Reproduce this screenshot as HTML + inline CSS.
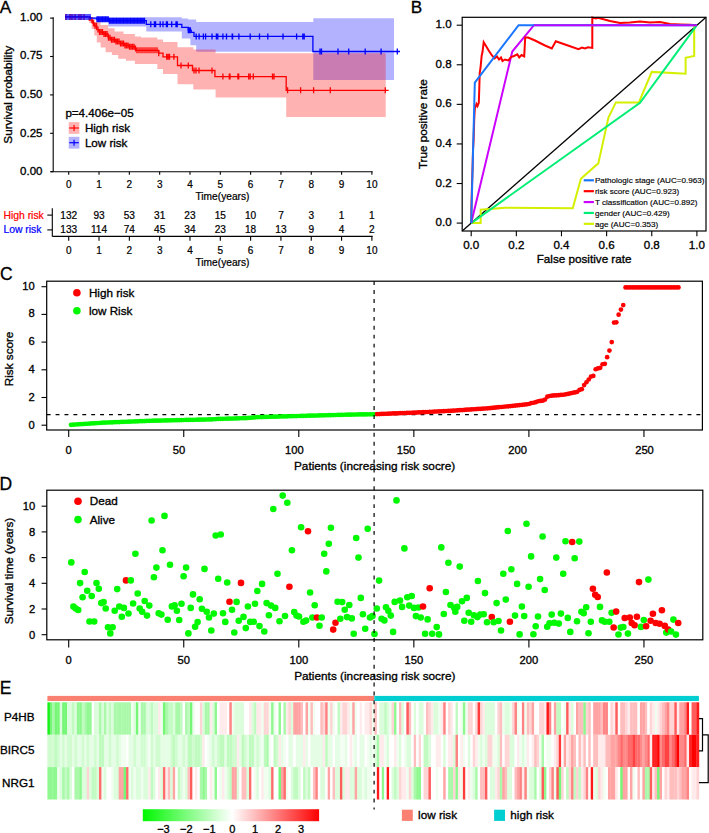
<!DOCTYPE html>
<html><head><meta charset="utf-8"><style>
html,body{margin:0;padding:0;background:#fff;overflow:hidden}
svg{display:block}
text{font-family:"Liberation Sans", sans-serif}
</style></head><body>
<svg width="709" height="833" viewBox="0 0 709 833">
<text x="-0.2" y="12.6" font-size="17.2" text-anchor="start" fill="#000" stroke="#000" stroke-width="0.3" >A</text>
<line x1="53.2" y1="17.3" x2="53.2" y2="171.7" stroke="#000" stroke-width="1.1" />
<line x1="50.1" y1="18.1" x2="53.2" y2="18.1" stroke="#000" stroke-width="1.1" />
<text x="42.5" y="20.7" font-size="11.5" text-anchor="end" fill="#000" stroke="#000" stroke-width="0.33" >1.00</text>
<line x1="50.1" y1="56.5" x2="53.2" y2="56.5" stroke="#000" stroke-width="1.1" />
<text x="42.5" y="59.3" font-size="11.5" text-anchor="end" fill="#000" stroke="#000" stroke-width="0.33" >0.75</text>
<line x1="50.1" y1="94.9" x2="53.2" y2="94.9" stroke="#000" stroke-width="1.1" />
<text x="42.5" y="97.9" font-size="11.5" text-anchor="end" fill="#000" stroke="#000" stroke-width="0.33" >0.50</text>
<line x1="50.1" y1="133.3" x2="53.2" y2="133.3" stroke="#000" stroke-width="1.1" />
<text x="42.5" y="136.5" font-size="11.5" text-anchor="end" fill="#000" stroke="#000" stroke-width="0.33" >0.25</text>
<line x1="50.1" y1="171.7" x2="53.2" y2="171.7" stroke="#000" stroke-width="1.1" />
<text x="42.5" y="175.1" font-size="11.5" text-anchor="end" fill="#000" stroke="#000" stroke-width="0.33" >0.00</text>
<text transform="translate(11.6,94.6) rotate(-90)" font-size="11.7" text-anchor="middle" fill="#000" stroke="#000" stroke-width="0.33">Survival probability</text>
<line x1="50.8" y1="171.7" x2="372.7" y2="171.7" stroke="#000" stroke-width="1.1" />
<line x1="68.7" y1="171.7" x2="68.7" y2="174.7" stroke="#000" stroke-width="1.1" />
<text x="68.7" y="187.6" font-size="10" text-anchor="middle" fill="#000" stroke="#000" stroke-width="0.22" >0</text>
<line x1="99.02" y1="171.7" x2="99.02" y2="174.7" stroke="#000" stroke-width="1.1" />
<text x="99.02" y="187.6" font-size="10" text-anchor="middle" fill="#000" stroke="#000" stroke-width="0.22" >1</text>
<line x1="129.34" y1="171.7" x2="129.34" y2="174.7" stroke="#000" stroke-width="1.1" />
<text x="129.34" y="187.6" font-size="10" text-anchor="middle" fill="#000" stroke="#000" stroke-width="0.22" >2</text>
<line x1="159.66" y1="171.7" x2="159.66" y2="174.7" stroke="#000" stroke-width="1.1" />
<text x="159.66" y="187.6" font-size="10" text-anchor="middle" fill="#000" stroke="#000" stroke-width="0.22" >3</text>
<line x1="189.98" y1="171.7" x2="189.98" y2="174.7" stroke="#000" stroke-width="1.1" />
<text x="189.98" y="187.6" font-size="10" text-anchor="middle" fill="#000" stroke="#000" stroke-width="0.22" >4</text>
<line x1="220.3" y1="171.7" x2="220.3" y2="174.7" stroke="#000" stroke-width="1.1" />
<text x="220.3" y="187.6" font-size="10" text-anchor="middle" fill="#000" stroke="#000" stroke-width="0.22" >5</text>
<line x1="250.62" y1="171.7" x2="250.62" y2="174.7" stroke="#000" stroke-width="1.1" />
<text x="250.62" y="187.6" font-size="10" text-anchor="middle" fill="#000" stroke="#000" stroke-width="0.22" >6</text>
<line x1="280.94" y1="171.7" x2="280.94" y2="174.7" stroke="#000" stroke-width="1.1" />
<text x="280.94" y="187.6" font-size="10" text-anchor="middle" fill="#000" stroke="#000" stroke-width="0.22" >7</text>
<line x1="311.26" y1="171.7" x2="311.26" y2="174.7" stroke="#000" stroke-width="1.1" />
<text x="311.26" y="187.6" font-size="10" text-anchor="middle" fill="#000" stroke="#000" stroke-width="0.22" >8</text>
<line x1="341.58" y1="171.7" x2="341.58" y2="174.7" stroke="#000" stroke-width="1.1" />
<text x="341.58" y="187.6" font-size="10" text-anchor="middle" fill="#000" stroke="#000" stroke-width="0.22" >9</text>
<line x1="371.9" y1="171.7" x2="371.9" y2="174.7" stroke="#000" stroke-width="1.1" />
<text x="371.9" y="187.6" font-size="10" text-anchor="middle" fill="#000" stroke="#000" stroke-width="0.22" >10</text>
<text x="222.5" y="199.7" font-size="10.2" text-anchor="middle" fill="#000" stroke="#000" stroke-width="0.22" >Time(years)</text>
<path d="M68.7,17.3 L181.8,17.3 L181.8,18.6 L188,18.6 L188,19.6 L196.2,19.6 L196.2,21.9 L313.3,21.9 L313.3,18.3 L394,18.3 L394,79.9 L313.3,79.9 L313.3,51.8 L196.2,51.8 L196.2,45.3 L190.4,45.3 L190.4,38.4 L181.8,38.4 L181.8,31.6 L146.3,31.6 L146.3,26.4 L108.3,26.4 L108.3,22 L97,22 L97,20 L90.3,20 L90.3,17.3 L68.7,17.3Z" fill="#0000FF" fill-opacity="0.3"/>
<path d="M68.7,17.3 L89.2,17.3 L89.2,19.4 L94.3,19.4 L94.3,22 L100.6,22 L100.6,25.1 L108.2,25.1 L108.2,28.3 L114.6,28.3 L114.6,31.5 L123.5,31.5 L123.5,34 L134.9,34 L134.9,36.6 L141,36.6 L141,37.4 L157.3,37.4 L157.3,39.5 L163,39.5 L163,42 L177.5,42 L177.5,47.2 L193.3,47.2 L193.3,49.6 L215.6,49.6 L215.6,53.3 L385.7,53.3 L385.7,116.9 L286.2,116.9 L286.2,97.6 L215.6,97.6 L215.6,89.5 L193.3,89.5 L193.3,84.2 L177.5,84.2 L177.5,74.1 L163,74.1 L163,69.1 L157.3,69.1 L157.3,63.9 L134.9,63.9 L134.9,60.7 L126,60.7 L126,58.8 L118.2,58.8 L118.2,55 L111.9,55 L111.9,52.2 L105.6,52.2 L105.6,47.5 L100.6,47.5 L100.6,42.5 L96.8,42.5 L96.8,35.4 L94.3,35.4 L94.3,29 L91.7,29 L91.7,23 L89.2,23 L89.2,17.3 L68.7,17.3Z" fill="#FF0000" fill-opacity="0.3"/>
<path d="M65,16.9 H89.2 V20.1 H92.4 V23.2 H94.3 V25.8 H96.8 V29.6 H99.4 V32.1 H103.8 V34 H108.2 V37.8 H110.8 V39.7 H115.9 V41.6 H120.3 V43.5 H124.7 V45.4 H129.2 V46.7 H134.9 V48.6 H136.2 V50.3 H158.7 V53.2 H163 V56.8 H177.5 V65.5 H192.5 V70.5 H214.9 V76.6 H286.2 V90.3 H388.6" stroke="#FF0000" stroke-width="1.3" fill="none"/>
<path d="M66,13.9V19.9M70,13.9V19.9M72,13.9V19.9M75,13.9V19.9M79,13.9V19.9M81,13.9V19.9M84,13.9V19.9M92,17.1V23.1M93.5,20.2V26.2M95,22.8V28.8M96.5,22.8V28.8M98,26.6V32.6M99.5,29.1V35.1M101,29.1V35.1M102.5,29.1V35.1M104,31V37M105.5,31V37M107,31V37M108.5,34.8V40.8M110,34.8V40.8M111.5,36.7V42.7M113,36.7V42.7M114.5,36.7V42.7M116,38.6V44.6M117.5,38.6V44.6M119,38.6V44.6M120.5,40.5V46.5M122,40.5V46.5M123.5,40.5V46.5M125,42.4V48.4M126.5,42.4V48.4M128,42.4V48.4M129.5,43.7V49.7M131,43.7V49.7M132.5,43.7V49.7M134,43.7V49.7M135.5,45.6V51.6M137,47.3V53.3M139,47.3V53.3M141,47.3V53.3M143,47.3V53.3M145,47.3V53.3M147,47.3V53.3M149,47.3V53.3M151,47.3V53.3M153,47.3V53.3M155,47.3V53.3M157,47.3V53.3M158.7,50.2V56.2M166.7,53.8V59.8M168.1,53.8V59.8M169.5,53.8V59.8M173.9,53.8V59.8M181,62.5V68.5M188.3,62.5V68.5M194,67.5V73.5M196,67.5V73.5M199,67.5V73.5M212,67.5V73.5M222.9,73.6V79.6M229.3,73.6V79.6M230,73.6V79.6M237.9,73.6V79.6M238.7,73.6V79.6M248.7,73.6V79.6M250.2,73.6V79.6M253.3,73.6V79.6M272.5,73.6V79.6M274,73.6V79.6M287.6,87.3V93.3M300.6,87.3V93.3M313.6,87.3V93.3M330.3,87.3V93.3M385.3,87.3V93.3" stroke="#FF0000" stroke-width="1.3" fill="none"/>
<path d="M65,16.9 H90.3 V18.2 H97 V19.2 H108.3 V20.7 H146.3 V24.3 H181.8 V27.3 H188.3 V30.2 H191.2 V32.3 H194 V36.4 H312.9 V51.5 H400" stroke="#0000FF" stroke-width="1.3" fill="none"/>
<path d="M66,13.9V19.9M68,13.9V19.9M70,13.9V19.9M72,13.9V19.9M74,13.9V19.9M76,13.9V19.9M78,13.9V19.9M80,13.9V19.9M82,13.9V19.9M84,13.9V19.9M86,13.9V19.9M88,13.9V19.9M90,13.9V19.9M97,16.2V22.2M98.4,16.2V22.2M99.8,16.2V22.2M101.2,16.2V22.2M102.6,16.2V22.2M104,16.2V22.2M105.4,16.2V22.2M106.8,16.2V22.2M108.2,16.2V22.2M109.5,17.7V23.7M110.9,17.7V23.7M112.3,17.7V23.7M113.7,17.7V23.7M115.1,17.7V23.7M116.5,17.7V23.7M117.9,17.7V23.7M119.3,17.7V23.7M120.7,17.7V23.7M122.1,17.7V23.7M123.5,17.7V23.7M124.9,17.7V23.7M126.3,17.7V23.7M127.7,17.7V23.7M129.1,17.7V23.7M130.5,17.7V23.7M131.9,17.7V23.7M133.3,17.7V23.7M134.7,17.7V23.7M136.1,17.7V23.7M137.5,17.7V23.7M138.9,17.7V23.7M140.3,17.7V23.7M141.7,17.7V23.7M143.1,17.7V23.7M144.5,17.7V23.7M150.8,21.3V27.3M154.4,21.3V27.3M155.6,21.3V27.3M160.2,21.3V27.3M163,21.3V27.3M166.4,21.3V27.3M167.4,21.3V27.3M171.7,21.3V27.3M176,21.3V27.3M177.2,21.3V27.3M188.3,27.2V33.2M189.5,27.2V33.2M190.4,27.2V33.2M196.2,33.4V39.4M199.1,33.4V39.4M203.4,33.4V39.4M205.6,33.4V39.4M212,33.4V39.4M216.4,33.4V39.4M217.8,33.4V39.4M222.9,33.4V39.4M226.5,33.4V39.4M232.2,33.4V39.4M232.6,33.4V39.4M238.9,33.4V39.4M250.2,33.4V39.4M259.5,33.4V39.4M267.8,33.4V39.4M283,33.4V39.4M296.6,33.4V39.4M302.8,33.4V39.4M304.2,33.4V39.4M320,48.5V54.5M321.5,48.5V54.5M338,48.5V54.5M348.7,48.5V54.5M365.2,48.5V54.5M381.1,48.5V54.5M397.3,48.5V54.5" stroke="#0000FF" stroke-width="1.3" fill="none"/>
<text x="65.4" y="117.4" font-size="11.6" text-anchor="start" fill="#000" stroke="#000" stroke-width="0.33" >p=4.406e&#8722;05</text>
<rect x="68.7" y="122.2" width="10.7" height="11.6" fill="#FF0000" fill-opacity="0.3"/>
<rect x="68.7" y="136.8" width="10.7" height="11.8" fill="#0000FF" fill-opacity="0.3"/>
<line x1="69.3" y1="128" x2="78.8" y2="128" stroke="#FF0000" stroke-width="1.2" />
<line x1="74.05" y1="125" x2="74.05" y2="131" stroke="#FF0000" stroke-width="1.2" />
<line x1="69.3" y1="142.7" x2="78.8" y2="142.7" stroke="#0000FF" stroke-width="1.2" />
<line x1="74.05" y1="139.7" x2="74.05" y2="145.7" stroke="#0000FF" stroke-width="1.2" />
<text x="84.9" y="132.4" font-size="11.6" text-anchor="start" fill="#000" stroke="#000" stroke-width="0.33" >High risk</text>
<text x="84.9" y="147" font-size="11.6" text-anchor="start" fill="#000" stroke="#000" stroke-width="0.33" >Low risk</text>
<line x1="52.3" y1="208.3" x2="52.3" y2="236.4" stroke="#000" stroke-width="1.1" />
<line x1="52.3" y1="236.4" x2="372.7" y2="236.4" stroke="#000" stroke-width="1.1" />
<line x1="47.3" y1="215.1" x2="52.3" y2="215.1" stroke="#000" stroke-width="1.1" />
<line x1="47.3" y1="229.9" x2="52.3" y2="229.9" stroke="#000" stroke-width="1.1" />
<text x="3.4" y="218.5" font-size="10.4" text-anchor="start" fill="#FF0000" stroke="#FF0000" stroke-width="0.22" >High risk</text>
<text x="3.4" y="233.3" font-size="10.4" text-anchor="start" fill="#0000FF" stroke="#0000FF" stroke-width="0.22" >Low risk</text>
<text x="68.7" y="218.5" font-size="10.1" text-anchor="middle" fill="#000" stroke="#000" stroke-width="0.22" >132</text>
<text x="68.7" y="233.3" font-size="10.1" text-anchor="middle" fill="#000" stroke="#000" stroke-width="0.22" >133</text>
<line x1="68.7" y1="236.4" x2="68.7" y2="240.7" stroke="#000" stroke-width="1.1" />
<text x="68.7" y="254.2" font-size="10" text-anchor="middle" fill="#000" stroke="#000" stroke-width="0.22" >0</text>
<text x="99.02" y="218.5" font-size="10.1" text-anchor="middle" fill="#000" stroke="#000" stroke-width="0.22" >93</text>
<text x="99.02" y="233.3" font-size="10.1" text-anchor="middle" fill="#000" stroke="#000" stroke-width="0.22" >114</text>
<line x1="99.02" y1="236.4" x2="99.02" y2="240.7" stroke="#000" stroke-width="1.1" />
<text x="99.02" y="254.2" font-size="10" text-anchor="middle" fill="#000" stroke="#000" stroke-width="0.22" >1</text>
<text x="129.34" y="218.5" font-size="10.1" text-anchor="middle" fill="#000" stroke="#000" stroke-width="0.22" >53</text>
<text x="129.34" y="233.3" font-size="10.1" text-anchor="middle" fill="#000" stroke="#000" stroke-width="0.22" >74</text>
<line x1="129.34" y1="236.4" x2="129.34" y2="240.7" stroke="#000" stroke-width="1.1" />
<text x="129.34" y="254.2" font-size="10" text-anchor="middle" fill="#000" stroke="#000" stroke-width="0.22" >2</text>
<text x="159.66" y="218.5" font-size="10.1" text-anchor="middle" fill="#000" stroke="#000" stroke-width="0.22" >31</text>
<text x="159.66" y="233.3" font-size="10.1" text-anchor="middle" fill="#000" stroke="#000" stroke-width="0.22" >45</text>
<line x1="159.66" y1="236.4" x2="159.66" y2="240.7" stroke="#000" stroke-width="1.1" />
<text x="159.66" y="254.2" font-size="10" text-anchor="middle" fill="#000" stroke="#000" stroke-width="0.22" >3</text>
<text x="189.98" y="218.5" font-size="10.1" text-anchor="middle" fill="#000" stroke="#000" stroke-width="0.22" >23</text>
<text x="189.98" y="233.3" font-size="10.1" text-anchor="middle" fill="#000" stroke="#000" stroke-width="0.22" >34</text>
<line x1="189.98" y1="236.4" x2="189.98" y2="240.7" stroke="#000" stroke-width="1.1" />
<text x="189.98" y="254.2" font-size="10" text-anchor="middle" fill="#000" stroke="#000" stroke-width="0.22" >4</text>
<text x="220.3" y="218.5" font-size="10.1" text-anchor="middle" fill="#000" stroke="#000" stroke-width="0.22" >15</text>
<text x="220.3" y="233.3" font-size="10.1" text-anchor="middle" fill="#000" stroke="#000" stroke-width="0.22" >23</text>
<line x1="220.3" y1="236.4" x2="220.3" y2="240.7" stroke="#000" stroke-width="1.1" />
<text x="220.3" y="254.2" font-size="10" text-anchor="middle" fill="#000" stroke="#000" stroke-width="0.22" >5</text>
<text x="250.62" y="218.5" font-size="10.1" text-anchor="middle" fill="#000" stroke="#000" stroke-width="0.22" >10</text>
<text x="250.62" y="233.3" font-size="10.1" text-anchor="middle" fill="#000" stroke="#000" stroke-width="0.22" >18</text>
<line x1="250.62" y1="236.4" x2="250.62" y2="240.7" stroke="#000" stroke-width="1.1" />
<text x="250.62" y="254.2" font-size="10" text-anchor="middle" fill="#000" stroke="#000" stroke-width="0.22" >6</text>
<text x="280.94" y="218.5" font-size="10.1" text-anchor="middle" fill="#000" stroke="#000" stroke-width="0.22" >7</text>
<text x="280.94" y="233.3" font-size="10.1" text-anchor="middle" fill="#000" stroke="#000" stroke-width="0.22" >13</text>
<line x1="280.94" y1="236.4" x2="280.94" y2="240.7" stroke="#000" stroke-width="1.1" />
<text x="280.94" y="254.2" font-size="10" text-anchor="middle" fill="#000" stroke="#000" stroke-width="0.22" >7</text>
<text x="311.26" y="218.5" font-size="10.1" text-anchor="middle" fill="#000" stroke="#000" stroke-width="0.22" >3</text>
<text x="311.26" y="233.3" font-size="10.1" text-anchor="middle" fill="#000" stroke="#000" stroke-width="0.22" >9</text>
<line x1="311.26" y1="236.4" x2="311.26" y2="240.7" stroke="#000" stroke-width="1.1" />
<text x="311.26" y="254.2" font-size="10" text-anchor="middle" fill="#000" stroke="#000" stroke-width="0.22" >8</text>
<text x="341.58" y="218.5" font-size="10.1" text-anchor="middle" fill="#000" stroke="#000" stroke-width="0.22" >1</text>
<text x="341.58" y="233.3" font-size="10.1" text-anchor="middle" fill="#000" stroke="#000" stroke-width="0.22" >4</text>
<line x1="341.58" y1="236.4" x2="341.58" y2="240.7" stroke="#000" stroke-width="1.1" />
<text x="341.58" y="254.2" font-size="10" text-anchor="middle" fill="#000" stroke="#000" stroke-width="0.22" >9</text>
<text x="371.9" y="218.5" font-size="10.1" text-anchor="middle" fill="#000" stroke="#000" stroke-width="0.22" >1</text>
<text x="371.9" y="233.3" font-size="10.1" text-anchor="middle" fill="#000" stroke="#000" stroke-width="0.22" >2</text>
<line x1="371.9" y1="236.4" x2="371.9" y2="240.7" stroke="#000" stroke-width="1.1" />
<text x="371.9" y="254.2" font-size="10" text-anchor="middle" fill="#000" stroke="#000" stroke-width="0.22" >10</text>
<text x="222.5" y="265.8" font-size="10.2" text-anchor="middle" fill="#000" stroke="#000" stroke-width="0.22" >Time(years)</text>
<text x="410.7" y="12.6" font-size="17.2" text-anchor="start" fill="#000" stroke="#000" stroke-width="0.3" >B</text>
<line x1="462.2" y1="231" x2="706" y2="17.3" stroke="#000" stroke-width="1.3" />
<path d="M471.2,223.1 L480.68,223.1 L480.68,209.64 L505.06,207.66 L572.76,208.26 L580.89,178.77 L596.46,164.92 L598.27,163.73 L608.43,117.62 L615.87,102.38 L638.9,102.38 L651.76,71.9 L685.62,73.69 L685.62,57.85 L694.19,55.87 L694.19,25.2 L696.9,25.2" stroke="#D4F000" stroke-width="2.0" fill="none" stroke-linejoin="miter"/>
<path d="M471.2,223.1 L640.02,102.78 L696.9,25.2" stroke="#00EE76" stroke-width="2.0" fill="none" stroke-linejoin="miter"/>
<path d="M471.2,223.1 L512.28,51.52 L533.94,25.2 L696.9,25.2" stroke="#CC00FF" stroke-width="2.0" fill="none" stroke-linejoin="miter"/>
<path d="M471.2,223.1 L471.6,200 L472,185 L472.5,170 L473,150 L473.6,140 L474.2,120 L474.8,108.7 L476.5,104 L477.5,106 L478.8,102.8 L479.3,88 L479.7,73.2 L480.5,68 L481.7,55.4 L482.5,52 L483.7,42.2 L486,46 L489,51 L492,55.5 L494.6,58.4 L497,56.5 L499,59.5 L501,57.5 L502.5,61 L505,59.5 L508.4,60.4 L511,57 L514,56 L517.3,54.4 L519.2,57.4 L521.5,55 L524.2,56.4 L525.2,37.6 L528.1,37.6 L535,40.5 L545,45.5 L551.8,48.5 L555.8,41.2 L565,44.5 L578.5,49.1 L582,47.5 L585,48.5 L588,47.3 L592.3,47.9 L592.3,17.5 L596,18.5 L598,17.8 L610,21 L620,23 L630,22.5 L640,21.5 L650,22.5 L660,22 L670,24 L680,24.5 L690,24.8 L696.9,25.2" stroke="#FF0000" stroke-width="2.0" fill="none" stroke-linejoin="miter"/>
<path d="M471.2,223.1 L474.81,82.59 L518.6,25.2 L696.9,25.2" stroke="#1A75FF" stroke-width="2.0" fill="none" stroke-linejoin="miter"/>
<path d="M533.94,25.2 L696.9,25.2" stroke="#CC00FF" stroke-width="1.6" fill="none" stroke-linejoin="miter"/>
<rect x="462.2" y="17.3" width="243.8" height="213.7" fill="none" stroke="#000" stroke-width="1.2"/>
<line x1="456.7" y1="223.1" x2="462.2" y2="223.1" stroke="#000" stroke-width="1.1" />
<text x="451.6" y="226.1" font-size="11.6" text-anchor="end" fill="#000" stroke="#000" stroke-width="0.33" >0.0</text>
<line x1="456.7" y1="183.52" x2="462.2" y2="183.52" stroke="#000" stroke-width="1.1" />
<text x="451.6" y="186.52" font-size="11.6" text-anchor="end" fill="#000" stroke="#000" stroke-width="0.33" >0.2</text>
<line x1="456.7" y1="143.94" x2="462.2" y2="143.94" stroke="#000" stroke-width="1.1" />
<text x="451.6" y="146.94" font-size="11.6" text-anchor="end" fill="#000" stroke="#000" stroke-width="0.33" >0.4</text>
<line x1="456.7" y1="104.36" x2="462.2" y2="104.36" stroke="#000" stroke-width="1.1" />
<text x="451.6" y="107.36" font-size="11.6" text-anchor="end" fill="#000" stroke="#000" stroke-width="0.33" >0.6</text>
<line x1="456.7" y1="64.78" x2="462.2" y2="64.78" stroke="#000" stroke-width="1.1" />
<text x="451.6" y="67.78" font-size="11.6" text-anchor="end" fill="#000" stroke="#000" stroke-width="0.33" >0.8</text>
<line x1="456.7" y1="25.2" x2="462.2" y2="25.2" stroke="#000" stroke-width="1.1" />
<text x="451.6" y="28.2" font-size="11.6" text-anchor="end" fill="#000" stroke="#000" stroke-width="0.33" >1.0</text>
<line x1="471.2" y1="231" x2="471.2" y2="236.3" stroke="#000" stroke-width="1.1" />
<text x="471.2" y="248.6" font-size="11.6" text-anchor="middle" fill="#000" stroke="#000" stroke-width="0.33" >0.0</text>
<line x1="516.34" y1="231" x2="516.34" y2="236.3" stroke="#000" stroke-width="1.1" />
<text x="516.34" y="248.6" font-size="11.6" text-anchor="middle" fill="#000" stroke="#000" stroke-width="0.33" >0.2</text>
<line x1="561.48" y1="231" x2="561.48" y2="236.3" stroke="#000" stroke-width="1.1" />
<text x="561.48" y="248.6" font-size="11.6" text-anchor="middle" fill="#000" stroke="#000" stroke-width="0.33" >0.4</text>
<line x1="606.62" y1="231" x2="606.62" y2="236.3" stroke="#000" stroke-width="1.1" />
<text x="606.62" y="248.6" font-size="11.6" text-anchor="middle" fill="#000" stroke="#000" stroke-width="0.33" >0.6</text>
<line x1="651.76" y1="231" x2="651.76" y2="236.3" stroke="#000" stroke-width="1.1" />
<text x="651.76" y="248.6" font-size="11.6" text-anchor="middle" fill="#000" stroke="#000" stroke-width="0.33" >0.8</text>
<line x1="696.9" y1="231" x2="696.9" y2="236.3" stroke="#000" stroke-width="1.1" />
<text x="696.9" y="248.6" font-size="11.6" text-anchor="middle" fill="#000" stroke="#000" stroke-width="0.33" >1.0</text>
<text transform="translate(427,124.2) rotate(-90)" font-size="11.7" text-anchor="middle" fill="#000" stroke="#000" stroke-width="0.33">True positive rate</text>
<text x="584.1" y="263.2" font-size="11.7" text-anchor="middle" fill="#000" stroke="#000" stroke-width="0.33" >False positive rate</text>
<line x1="583.7" y1="180.3" x2="593.9" y2="180.3" stroke="#1A75FF" stroke-width="2.2" />
<text x="594.9" y="183.2" font-size="8.1" text-anchor="start" fill="#000" stroke="#000" stroke-width="0.15" >Pathologic stage (AUC=0.963)</text>
<line x1="583.7" y1="191.18" x2="593.9" y2="191.18" stroke="#FF0000" stroke-width="2.2" />
<text x="594.9" y="194.08" font-size="8.1" text-anchor="start" fill="#000" stroke="#000" stroke-width="0.15" >risk score (AUC=0.923)</text>
<line x1="583.7" y1="202.06" x2="593.9" y2="202.06" stroke="#CC00FF" stroke-width="2.2" />
<text x="594.9" y="204.96" font-size="8.1" text-anchor="start" fill="#000" stroke="#000" stroke-width="0.15" >T classification (AUC=0.892)</text>
<line x1="583.7" y1="212.94" x2="593.9" y2="212.94" stroke="#00EE76" stroke-width="2.2" />
<text x="594.9" y="215.84" font-size="8.1" text-anchor="start" fill="#000" stroke="#000" stroke-width="0.15" >gender (AUC=0.429)</text>
<line x1="583.7" y1="223.82" x2="593.9" y2="223.82" stroke="#D4F000" stroke-width="2.2" />
<text x="594.9" y="226.72" font-size="8.1" text-anchor="start" fill="#000" stroke="#000" stroke-width="0.15" >age (AUC=0.353)</text>
<text x="-0.1" y="280" font-size="17.5" text-anchor="start" fill="#000" stroke="#000" stroke-width="0.3" >C</text>
<line x1="46.7" y1="414.6" x2="702.4" y2="414.6" stroke="#000" stroke-width="1.2" stroke-dasharray="3.9 5.0"/>
<circle cx="71" cy="424.78" r="2.35" fill="#00F800"/>
<circle cx="73.3" cy="424.64" r="2.35" fill="#00F800"/>
<circle cx="75.6" cy="424.49" r="2.35" fill="#00F800"/>
<circle cx="77.9" cy="424.34" r="2.35" fill="#00F800"/>
<circle cx="80.2" cy="424.19" r="2.35" fill="#00F800"/>
<circle cx="82.51" cy="424.05" r="2.35" fill="#00F800"/>
<circle cx="84.81" cy="423.9" r="2.35" fill="#00F800"/>
<circle cx="87.11" cy="423.75" r="2.35" fill="#00F800"/>
<circle cx="89.41" cy="423.6" r="2.35" fill="#00F800"/>
<circle cx="91.71" cy="423.45" r="2.35" fill="#00F800"/>
<circle cx="94.01" cy="423.31" r="2.35" fill="#00F800"/>
<circle cx="96.31" cy="423.16" r="2.35" fill="#00F800"/>
<circle cx="98.61" cy="423.01" r="2.35" fill="#00F800"/>
<circle cx="100.91" cy="422.86" r="2.35" fill="#00F800"/>
<circle cx="103.22" cy="422.72" r="2.35" fill="#00F800"/>
<circle cx="105.52" cy="422.57" r="2.35" fill="#00F800"/>
<circle cx="107.82" cy="422.48" r="2.35" fill="#00F800"/>
<circle cx="110.12" cy="422.39" r="2.35" fill="#00F800"/>
<circle cx="112.42" cy="422.3" r="2.35" fill="#00F800"/>
<circle cx="114.72" cy="422.21" r="2.35" fill="#00F800"/>
<circle cx="117.02" cy="422.12" r="2.35" fill="#00F800"/>
<circle cx="119.32" cy="422.03" r="2.35" fill="#00F800"/>
<circle cx="121.62" cy="421.94" r="2.35" fill="#00F800"/>
<circle cx="123.92" cy="421.85" r="2.35" fill="#00F800"/>
<circle cx="126.23" cy="421.76" r="2.35" fill="#00F800"/>
<circle cx="128.53" cy="421.67" r="2.35" fill="#00F800"/>
<circle cx="130.83" cy="421.58" r="2.35" fill="#00F800"/>
<circle cx="133.13" cy="421.49" r="2.35" fill="#00F800"/>
<circle cx="135.43" cy="421.4" r="2.35" fill="#00F800"/>
<circle cx="137.73" cy="421.31" r="2.35" fill="#00F800"/>
<circle cx="140.03" cy="421.22" r="2.35" fill="#00F800"/>
<circle cx="142.33" cy="421.13" r="2.35" fill="#00F800"/>
<circle cx="144.63" cy="421.04" r="2.35" fill="#00F800"/>
<circle cx="146.93" cy="420.95" r="2.35" fill="#00F800"/>
<circle cx="149.24" cy="420.86" r="2.35" fill="#00F800"/>
<circle cx="151.54" cy="420.77" r="2.35" fill="#00F800"/>
<circle cx="153.84" cy="420.71" r="2.35" fill="#00F800"/>
<circle cx="156.14" cy="420.66" r="2.35" fill="#00F800"/>
<circle cx="158.44" cy="420.61" r="2.35" fill="#00F800"/>
<circle cx="160.74" cy="420.55" r="2.35" fill="#00F800"/>
<circle cx="163.04" cy="420.5" r="2.35" fill="#00F800"/>
<circle cx="165.34" cy="420.45" r="2.35" fill="#00F800"/>
<circle cx="167.64" cy="420.4" r="2.35" fill="#00F800"/>
<circle cx="169.94" cy="420.34" r="2.35" fill="#00F800"/>
<circle cx="172.25" cy="420.29" r="2.35" fill="#00F800"/>
<circle cx="174.55" cy="420.24" r="2.35" fill="#00F800"/>
<circle cx="176.85" cy="420.18" r="2.35" fill="#00F800"/>
<circle cx="179.15" cy="420.13" r="2.35" fill="#00F800"/>
<circle cx="181.45" cy="420.08" r="2.35" fill="#00F800"/>
<circle cx="183.75" cy="420.02" r="2.35" fill="#00F800"/>
<circle cx="186.05" cy="419.97" r="2.35" fill="#00F800"/>
<circle cx="188.35" cy="419.92" r="2.35" fill="#00F800"/>
<circle cx="190.65" cy="419.86" r="2.35" fill="#00F800"/>
<circle cx="192.95" cy="419.81" r="2.35" fill="#00F800"/>
<circle cx="195.25" cy="419.76" r="2.35" fill="#00F800"/>
<circle cx="197.56" cy="419.7" r="2.35" fill="#00F800"/>
<circle cx="199.86" cy="419.65" r="2.35" fill="#00F800"/>
<circle cx="202.16" cy="419.6" r="2.35" fill="#00F800"/>
<circle cx="204.46" cy="419.54" r="2.35" fill="#00F800"/>
<circle cx="206.76" cy="419.49" r="2.35" fill="#00F800"/>
<circle cx="209.06" cy="419.44" r="2.35" fill="#00F800"/>
<circle cx="211.36" cy="419.38" r="2.35" fill="#00F800"/>
<circle cx="213.66" cy="419.24" r="2.35" fill="#00F800"/>
<circle cx="215.96" cy="419.11" r="2.35" fill="#00F800"/>
<circle cx="218.26" cy="418.97" r="2.35" fill="#00F800"/>
<circle cx="220.57" cy="418.9" r="2.35" fill="#00F800"/>
<circle cx="222.87" cy="418.83" r="2.35" fill="#00F800"/>
<circle cx="225.17" cy="418.76" r="2.35" fill="#00F800"/>
<circle cx="227.47" cy="418.69" r="2.35" fill="#00F800"/>
<circle cx="229.77" cy="418.62" r="2.35" fill="#00F800"/>
<circle cx="232.07" cy="418.55" r="2.35" fill="#00F800"/>
<circle cx="234.37" cy="418.48" r="2.35" fill="#00F800"/>
<circle cx="236.67" cy="418.41" r="2.35" fill="#00F800"/>
<circle cx="238.97" cy="418.34" r="2.35" fill="#00F800"/>
<circle cx="241.28" cy="418.27" r="2.35" fill="#00F800"/>
<circle cx="243.58" cy="418.21" r="2.35" fill="#00F800"/>
<circle cx="245.88" cy="418.14" r="2.35" fill="#00F800"/>
<circle cx="248.18" cy="417.94" r="2.35" fill="#00F800"/>
<circle cx="250.48" cy="417.75" r="2.35" fill="#00F800"/>
<circle cx="252.78" cy="417.55" r="2.35" fill="#00F800"/>
<circle cx="255.08" cy="417.36" r="2.35" fill="#00F800"/>
<circle cx="257.38" cy="417.17" r="2.35" fill="#00F800"/>
<circle cx="259.68" cy="417.1" r="2.35" fill="#00F800"/>
<circle cx="261.98" cy="417.04" r="2.35" fill="#00F800"/>
<circle cx="264.29" cy="416.97" r="2.35" fill="#00F800"/>
<circle cx="266.59" cy="416.9" r="2.35" fill="#00F800"/>
<circle cx="268.89" cy="416.84" r="2.35" fill="#00F800"/>
<circle cx="271.19" cy="416.77" r="2.35" fill="#00F800"/>
<circle cx="273.49" cy="416.71" r="2.35" fill="#00F800"/>
<circle cx="275.79" cy="416.64" r="2.35" fill="#00F800"/>
<circle cx="278.09" cy="416.57" r="2.35" fill="#00F800"/>
<circle cx="280.39" cy="416.51" r="2.35" fill="#00F800"/>
<circle cx="282.69" cy="416.44" r="2.35" fill="#00F800"/>
<circle cx="284.99" cy="416.38" r="2.35" fill="#00F800"/>
<circle cx="287.3" cy="416.31" r="2.35" fill="#00F800"/>
<circle cx="289.6" cy="416.24" r="2.35" fill="#00F800"/>
<circle cx="291.9" cy="416.18" r="2.35" fill="#00F800"/>
<circle cx="294.2" cy="416.11" r="2.35" fill="#00F800"/>
<circle cx="296.5" cy="416.05" r="2.35" fill="#00F800"/>
<circle cx="298.8" cy="415.98" r="2.35" fill="#00F800"/>
<circle cx="301.1" cy="415.91" r="2.35" fill="#00F800"/>
<circle cx="303.4" cy="415.85" r="2.35" fill="#00F800"/>
<circle cx="305.7" cy="415.78" r="2.35" fill="#00F800"/>
<circle cx="308" cy="415.72" r="2.35" fill="#00F800"/>
<circle cx="310.31" cy="415.66" r="2.35" fill="#00F800"/>
<circle cx="312.61" cy="415.6" r="2.35" fill="#00F800"/>
<circle cx="314.91" cy="415.54" r="2.35" fill="#00F800"/>
<circle cx="317.21" cy="415.49" r="2.35" fill="#00F800"/>
<circle cx="319.51" cy="415.43" r="2.35" fill="#00F800"/>
<circle cx="321.81" cy="415.37" r="2.35" fill="#00F800"/>
<circle cx="324.11" cy="415.31" r="2.35" fill="#00F800"/>
<circle cx="326.41" cy="415.25" r="2.35" fill="#00F800"/>
<circle cx="328.71" cy="415.19" r="2.35" fill="#00F800"/>
<circle cx="331.01" cy="415.13" r="2.35" fill="#00F800"/>
<circle cx="333.31" cy="415.07" r="2.35" fill="#00F800"/>
<circle cx="335.62" cy="415.01" r="2.35" fill="#00F800"/>
<circle cx="337.92" cy="414.95" r="2.35" fill="#00F800"/>
<circle cx="340.22" cy="414.89" r="2.35" fill="#00F800"/>
<circle cx="342.52" cy="414.83" r="2.35" fill="#00F800"/>
<circle cx="344.82" cy="414.77" r="2.35" fill="#00F800"/>
<circle cx="347.12" cy="414.71" r="2.35" fill="#00F800"/>
<circle cx="349.42" cy="414.65" r="2.35" fill="#00F800"/>
<circle cx="351.72" cy="414.59" r="2.35" fill="#00F800"/>
<circle cx="354.02" cy="414.54" r="2.35" fill="#00F800"/>
<circle cx="356.32" cy="414.5" r="2.35" fill="#00F800"/>
<circle cx="358.63" cy="414.47" r="2.35" fill="#00F800"/>
<circle cx="360.93" cy="414.44" r="2.35" fill="#00F800"/>
<circle cx="363.23" cy="414.41" r="2.35" fill="#00F800"/>
<circle cx="365.53" cy="414.38" r="2.35" fill="#00F800"/>
<circle cx="367.83" cy="414.35" r="2.35" fill="#00F800"/>
<circle cx="370.13" cy="414.32" r="2.35" fill="#00F800"/>
<circle cx="372.43" cy="414.29" r="2.35" fill="#00F800"/>
<circle cx="374.73" cy="414.26" r="2.35" fill="#00F800"/>
<circle cx="377.03" cy="414.12" r="2.35" fill="#FF0000"/>
<circle cx="379.34" cy="414.03" r="2.35" fill="#FF0000"/>
<circle cx="381.64" cy="413.94" r="2.35" fill="#FF0000"/>
<circle cx="383.94" cy="413.84" r="2.35" fill="#FF0000"/>
<circle cx="386.24" cy="413.75" r="2.35" fill="#FF0000"/>
<circle cx="388.54" cy="413.66" r="2.35" fill="#FF0000"/>
<circle cx="390.84" cy="413.57" r="2.35" fill="#FF0000"/>
<circle cx="393.14" cy="413.47" r="2.35" fill="#FF0000"/>
<circle cx="395.44" cy="413.38" r="2.35" fill="#FF0000"/>
<circle cx="397.74" cy="413.29" r="2.35" fill="#FF0000"/>
<circle cx="400.04" cy="413.2" r="2.35" fill="#FF0000"/>
<circle cx="402.35" cy="413.1" r="2.35" fill="#FF0000"/>
<circle cx="404.65" cy="413.01" r="2.35" fill="#FF0000"/>
<circle cx="406.95" cy="412.92" r="2.35" fill="#FF0000"/>
<circle cx="409.25" cy="412.83" r="2.35" fill="#FF0000"/>
<circle cx="411.55" cy="412.74" r="2.35" fill="#FF0000"/>
<circle cx="413.85" cy="412.64" r="2.35" fill="#FF0000"/>
<circle cx="416.15" cy="412.55" r="2.35" fill="#FF0000"/>
<circle cx="418.45" cy="412.46" r="2.35" fill="#FF0000"/>
<circle cx="420.75" cy="412.34" r="2.35" fill="#FF0000"/>
<circle cx="423.05" cy="412.22" r="2.35" fill="#FF0000"/>
<circle cx="425.36" cy="412.1" r="2.35" fill="#FF0000"/>
<circle cx="427.66" cy="411.98" r="2.35" fill="#FF0000"/>
<circle cx="429.96" cy="411.86" r="2.35" fill="#FF0000"/>
<circle cx="432.26" cy="411.74" r="2.35" fill="#FF0000"/>
<circle cx="434.56" cy="411.62" r="2.35" fill="#FF0000"/>
<circle cx="436.86" cy="411.5" r="2.35" fill="#FF0000"/>
<circle cx="439.16" cy="411.38" r="2.35" fill="#FF0000"/>
<circle cx="441.46" cy="411.26" r="2.35" fill="#FF0000"/>
<circle cx="443.76" cy="411.14" r="2.35" fill="#FF0000"/>
<circle cx="446.06" cy="411.02" r="2.35" fill="#FF0000"/>
<circle cx="448.37" cy="410.9" r="2.35" fill="#FF0000"/>
<circle cx="450.67" cy="410.78" r="2.35" fill="#FF0000"/>
<circle cx="452.97" cy="410.66" r="2.35" fill="#FF0000"/>
<circle cx="455.27" cy="410.5" r="2.35" fill="#FF0000"/>
<circle cx="457.57" cy="410.35" r="2.35" fill="#FF0000"/>
<circle cx="459.87" cy="410.19" r="2.35" fill="#FF0000"/>
<circle cx="462.17" cy="410.03" r="2.35" fill="#FF0000"/>
<circle cx="464.47" cy="409.88" r="2.35" fill="#FF0000"/>
<circle cx="466.77" cy="409.72" r="2.35" fill="#FF0000"/>
<circle cx="469.07" cy="409.57" r="2.35" fill="#FF0000"/>
<circle cx="471.38" cy="409.41" r="2.35" fill="#FF0000"/>
<circle cx="473.68" cy="409.26" r="2.35" fill="#FF0000"/>
<circle cx="475.98" cy="409.1" r="2.35" fill="#FF0000"/>
<circle cx="478.28" cy="408.94" r="2.35" fill="#FF0000"/>
<circle cx="480.58" cy="408.79" r="2.35" fill="#FF0000"/>
<circle cx="482.88" cy="408.63" r="2.35" fill="#FF0000"/>
<circle cx="485.18" cy="408.48" r="2.35" fill="#FF0000"/>
<circle cx="487.48" cy="408.32" r="2.35" fill="#FF0000"/>
<circle cx="489.78" cy="408.16" r="2.35" fill="#FF0000"/>
<circle cx="492.08" cy="407.93" r="2.35" fill="#FF0000"/>
<circle cx="494.38" cy="407.69" r="2.35" fill="#FF0000"/>
<circle cx="496.69" cy="407.46" r="2.35" fill="#FF0000"/>
<circle cx="498.99" cy="407.22" r="2.35" fill="#FF0000"/>
<circle cx="501.29" cy="406.99" r="2.35" fill="#FF0000"/>
<circle cx="503.59" cy="406.75" r="2.35" fill="#FF0000"/>
<circle cx="505.89" cy="406.52" r="2.35" fill="#FF0000"/>
<circle cx="508.19" cy="406.28" r="2.35" fill="#FF0000"/>
<circle cx="510.49" cy="406.05" r="2.35" fill="#FF0000"/>
<circle cx="512.79" cy="405.81" r="2.35" fill="#FF0000"/>
<circle cx="515.09" cy="405.56" r="2.35" fill="#FF0000"/>
<circle cx="517.4" cy="405.3" r="2.35" fill="#FF0000"/>
<circle cx="519.7" cy="405.05" r="2.35" fill="#FF0000"/>
<circle cx="522" cy="404.79" r="2.35" fill="#FF0000"/>
<circle cx="524.3" cy="404.54" r="2.35" fill="#FF0000"/>
<circle cx="526.6" cy="404.29" r="2.35" fill="#FF0000"/>
<circle cx="528.9" cy="404.01" r="2.35" fill="#FF0000"/>
<circle cx="531.2" cy="403.04" r="2.35" fill="#FF0000"/>
<circle cx="533.5" cy="402.76" r="2.35" fill="#FF0000"/>
<circle cx="535.8" cy="402.21" r="2.35" fill="#FF0000"/>
<circle cx="538.1" cy="401.24" r="2.35" fill="#FF0000"/>
<circle cx="540.41" cy="400.96" r="2.35" fill="#FF0000"/>
<circle cx="542.71" cy="400.69" r="2.35" fill="#FF0000"/>
<circle cx="545.01" cy="399.58" r="2.35" fill="#FF0000"/>
<circle cx="547.31" cy="396.67" r="2.35" fill="#FF0000"/>
<circle cx="549.61" cy="395.98" r="2.35" fill="#FF0000"/>
<circle cx="551.91" cy="395.7" r="2.35" fill="#FF0000"/>
<circle cx="554.21" cy="395.42" r="2.35" fill="#FF0000"/>
<circle cx="556.51" cy="395.28" r="2.35" fill="#FF0000"/>
<circle cx="558.81" cy="395.15" r="2.35" fill="#FF0000"/>
<circle cx="561.11" cy="394.87" r="2.35" fill="#FF0000"/>
<circle cx="563.42" cy="394.73" r="2.35" fill="#FF0000"/>
<circle cx="565.72" cy="394.31" r="2.35" fill="#FF0000"/>
<circle cx="568.02" cy="393.9" r="2.35" fill="#FF0000"/>
<circle cx="570.32" cy="393.34" r="2.35" fill="#FF0000"/>
<circle cx="572.62" cy="392.79" r="2.35" fill="#FF0000"/>
<circle cx="574.92" cy="392.38" r="2.35" fill="#FF0000"/>
<circle cx="577.22" cy="391.82" r="2.35" fill="#FF0000"/>
<circle cx="579.52" cy="389.88" r="2.35" fill="#FF0000"/>
<circle cx="581.82" cy="389.19" r="2.35" fill="#FF0000"/>
<circle cx="584.12" cy="385.03" r="2.35" fill="#FF0000"/>
<circle cx="586.43" cy="382.26" r="2.35" fill="#FF0000"/>
<circle cx="588.73" cy="379.5" r="2.35" fill="#FF0000"/>
<circle cx="591.03" cy="376.59" r="2.35" fill="#FF0000"/>
<circle cx="593.33" cy="375.89" r="2.35" fill="#FF0000"/>
<circle cx="595.63" cy="369.25" r="2.35" fill="#FF0000"/>
<circle cx="597.93" cy="368.41" r="2.35" fill="#FF0000"/>
<circle cx="600.23" cy="367.86" r="2.35" fill="#FF0000"/>
<circle cx="602.53" cy="364.26" r="2.35" fill="#FF0000"/>
<circle cx="604.83" cy="363.84" r="2.35" fill="#FF0000"/>
<circle cx="607.13" cy="357.2" r="2.35" fill="#FF0000"/>
<circle cx="609.44" cy="350.55" r="2.35" fill="#FF0000"/>
<circle cx="611.74" cy="342.1" r="2.35" fill="#FF0000"/>
<circle cx="614.04" cy="322.57" r="2.35" fill="#FF0000"/>
<circle cx="616.34" cy="322.29" r="2.35" fill="#FF0000"/>
<circle cx="618.64" cy="314.68" r="2.35" fill="#FF0000"/>
<circle cx="620.94" cy="309.55" r="2.35" fill="#FF0000"/>
<circle cx="623.24" cy="305.12" r="2.35" fill="#FF0000"/>
<circle cx="625.54" cy="287.39" r="2.35" fill="#FF0000"/>
<circle cx="627.84" cy="287.39" r="2.35" fill="#FF0000"/>
<circle cx="630.14" cy="287.39" r="2.35" fill="#FF0000"/>
<circle cx="632.45" cy="287.39" r="2.35" fill="#FF0000"/>
<circle cx="634.75" cy="287.39" r="2.35" fill="#FF0000"/>
<circle cx="637.05" cy="287.39" r="2.35" fill="#FF0000"/>
<circle cx="639.35" cy="287.39" r="2.35" fill="#FF0000"/>
<circle cx="641.65" cy="287.39" r="2.35" fill="#FF0000"/>
<circle cx="643.95" cy="287.39" r="2.35" fill="#FF0000"/>
<circle cx="646.25" cy="287.39" r="2.35" fill="#FF0000"/>
<circle cx="648.55" cy="287.39" r="2.35" fill="#FF0000"/>
<circle cx="650.85" cy="287.39" r="2.35" fill="#FF0000"/>
<circle cx="653.15" cy="287.39" r="2.35" fill="#FF0000"/>
<circle cx="655.46" cy="287.39" r="2.35" fill="#FF0000"/>
<circle cx="657.76" cy="287.39" r="2.35" fill="#FF0000"/>
<circle cx="660.06" cy="287.39" r="2.35" fill="#FF0000"/>
<circle cx="662.36" cy="287.39" r="2.35" fill="#FF0000"/>
<circle cx="664.66" cy="287.39" r="2.35" fill="#FF0000"/>
<circle cx="666.96" cy="287.39" r="2.35" fill="#FF0000"/>
<circle cx="669.26" cy="287.39" r="2.35" fill="#FF0000"/>
<circle cx="671.56" cy="287.39" r="2.35" fill="#FF0000"/>
<circle cx="673.86" cy="287.39" r="2.35" fill="#FF0000"/>
<circle cx="676.16" cy="287.39" r="2.35" fill="#FF0000"/>
<circle cx="678.47" cy="287.39" r="2.35" fill="#FF0000"/>
<rect x="46.7" y="281.2" width="655.7" height="148.8" fill="none" stroke="#000" stroke-width="1.2"/>
<line x1="41.5" y1="425.2" x2="46.7" y2="425.2" stroke="#000" stroke-width="1.1" />
<text x="34.8" y="429" font-size="11.2" text-anchor="end" fill="#000" stroke="#000" stroke-width="0.33" >0</text>
<line x1="41.5" y1="397.5" x2="46.7" y2="397.5" stroke="#000" stroke-width="1.1" />
<text x="34.8" y="401.1" font-size="11.2" text-anchor="end" fill="#000" stroke="#000" stroke-width="0.33" >2</text>
<line x1="41.5" y1="369.8" x2="46.7" y2="369.8" stroke="#000" stroke-width="1.1" />
<text x="34.8" y="373.2" font-size="11.2" text-anchor="end" fill="#000" stroke="#000" stroke-width="0.33" >4</text>
<line x1="41.5" y1="342.1" x2="46.7" y2="342.1" stroke="#000" stroke-width="1.1" />
<text x="34.8" y="345.3" font-size="11.2" text-anchor="end" fill="#000" stroke="#000" stroke-width="0.33" >6</text>
<line x1="41.5" y1="314.4" x2="46.7" y2="314.4" stroke="#000" stroke-width="1.1" />
<text x="34.8" y="317.4" font-size="11.2" text-anchor="end" fill="#000" stroke="#000" stroke-width="0.33" >8</text>
<line x1="41.5" y1="286.7" x2="46.7" y2="286.7" stroke="#000" stroke-width="1.1" />
<text x="34.8" y="289.5" font-size="11.2" text-anchor="end" fill="#000" stroke="#000" stroke-width="0.33" >10</text>
<line x1="68.7" y1="430" x2="68.7" y2="437" stroke="#000" stroke-width="1.1" />
<text x="68.7" y="454.4" font-size="11.2" text-anchor="middle" fill="#000" stroke="#000" stroke-width="0.33" >0</text>
<line x1="183.75" y1="430" x2="183.75" y2="437" stroke="#000" stroke-width="1.1" />
<text x="178.9" y="454.4" font-size="11.2" text-anchor="middle" fill="#000" stroke="#000" stroke-width="0.33" >50</text>
<line x1="298.8" y1="430" x2="298.8" y2="437" stroke="#000" stroke-width="1.1" />
<text x="294.3" y="454.4" font-size="11.2" text-anchor="middle" fill="#000" stroke="#000" stroke-width="0.33" >100</text>
<line x1="413.85" y1="430" x2="413.85" y2="437" stroke="#000" stroke-width="1.1" />
<text x="406" y="454.4" font-size="11.2" text-anchor="middle" fill="#000" stroke="#000" stroke-width="0.33" >150</text>
<line x1="528.9" y1="430" x2="528.9" y2="437" stroke="#000" stroke-width="1.1" />
<text x="517.7" y="454.4" font-size="11.2" text-anchor="middle" fill="#000" stroke="#000" stroke-width="0.33" >200</text>
<line x1="643.95" y1="430" x2="643.95" y2="437" stroke="#000" stroke-width="1.1" />
<text x="644.5" y="454.4" font-size="11.2" text-anchor="middle" fill="#000" stroke="#000" stroke-width="0.33" >250</text>
<text x="374.6" y="469.7" font-size="11.8" text-anchor="middle" fill="#000" stroke="#000" stroke-width="0.33" >Patients (increasing risk socre)</text>
<text transform="translate(13,358.9) rotate(-90)" font-size="11.7" text-anchor="middle" fill="#000" stroke="#000" stroke-width="0.33">Risk score</text>
<circle cx="76.9" cy="292.7" r="3.8" fill="#FF0000"/>
<circle cx="76.9" cy="310.7" r="3.8" fill="#00F800"/>
<text x="88.9" y="296.6" font-size="11.7" text-anchor="start" fill="#000" stroke="#000" stroke-width="0.33" >High risk</text>
<text x="88.9" y="314.6" font-size="11.7" text-anchor="start" fill="#000" stroke="#000" stroke-width="0.33" >low Risk</text>
<text x="-0.4" y="489.9" font-size="17.5" text-anchor="start" fill="#000" stroke="#000" stroke-width="0.3" >D</text>
<circle cx="71.3" cy="562.4" r="3.3" fill="#00F800"/>
<circle cx="73.4" cy="606.5" r="3.3" fill="#00F800"/>
<circle cx="75.7" cy="608.5" r="3.3" fill="#00F800"/>
<circle cx="78.2" cy="610" r="3.3" fill="#00F800"/>
<circle cx="80.1" cy="583.1" r="3.3" fill="#00F800"/>
<circle cx="82.6" cy="597.3" r="3.3" fill="#00F800"/>
<circle cx="84.7" cy="572" r="3.3" fill="#00F800"/>
<circle cx="87.2" cy="590.8" r="3.3" fill="#00F800"/>
<circle cx="89.5" cy="621.5" r="3.3" fill="#00F800"/>
<circle cx="91.7" cy="596" r="3.3" fill="#00F800"/>
<circle cx="94.2" cy="621.5" r="3.3" fill="#00F800"/>
<circle cx="96.5" cy="583.1" r="3.3" fill="#00F800"/>
<circle cx="98.8" cy="588.7" r="3.3" fill="#00F800"/>
<circle cx="101.3" cy="603.1" r="3.3" fill="#00F800"/>
<circle cx="103.6" cy="602.1" r="3.3" fill="#00F800"/>
<circle cx="105.7" cy="608.5" r="3.3" fill="#00F800"/>
<circle cx="108" cy="627.3" r="3.3" fill="#00F800"/>
<circle cx="110.3" cy="633.4" r="3.3" fill="#00F800"/>
<circle cx="112.6" cy="627.3" r="3.3" fill="#00F800"/>
<circle cx="114.7" cy="610.8" r="3.3" fill="#00F800"/>
<circle cx="117.2" cy="589.1" r="3.3" fill="#00F800"/>
<circle cx="119.3" cy="606.5" r="3.3" fill="#00F800"/>
<circle cx="121.8" cy="616.7" r="3.3" fill="#00F800"/>
<circle cx="123.9" cy="607.9" r="3.3" fill="#00F800"/>
<circle cx="126" cy="580.4" r="3.3" fill="#FF0000"/>
<circle cx="128.5" cy="613.5" r="3.3" fill="#00F800"/>
<circle cx="130.8" cy="580.4" r="3.3" fill="#00F800"/>
<circle cx="133.1" cy="603.5" r="3.3" fill="#00F800"/>
<circle cx="135.4" cy="553.7" r="3.3" fill="#00F800"/>
<circle cx="137.7" cy="593.5" r="3.3" fill="#00F800"/>
<circle cx="139.7" cy="608.5" r="3.3" fill="#00F800"/>
<circle cx="142.2" cy="611.7" r="3.3" fill="#00F800"/>
<circle cx="144.7" cy="601" r="3.3" fill="#00F800"/>
<circle cx="147" cy="615.6" r="3.3" fill="#00F800"/>
<circle cx="149.3" cy="605.6" r="3.3" fill="#00F800"/>
<circle cx="151.6" cy="520.5" r="3.3" fill="#00F800"/>
<circle cx="153.9" cy="577.2" r="3.3" fill="#00F800"/>
<circle cx="156.4" cy="567.6" r="3.3" fill="#00F800"/>
<circle cx="158.7" cy="613.3" r="3.3" fill="#00F800"/>
<circle cx="161.4" cy="614.6" r="3.3" fill="#00F800"/>
<circle cx="162.5" cy="550.3" r="3.3" fill="#00F800"/>
<circle cx="164.5" cy="515.9" r="3.3" fill="#00F800"/>
<circle cx="167.7" cy="619.8" r="3.3" fill="#00F800"/>
<circle cx="170" cy="564.7" r="3.3" fill="#00F800"/>
<circle cx="171.9" cy="606.4" r="3.3" fill="#00F800"/>
<circle cx="174.6" cy="605.4" r="3.3" fill="#00F800"/>
<circle cx="176.9" cy="610.8" r="3.3" fill="#00F800"/>
<circle cx="179.2" cy="620" r="3.3" fill="#00F800"/>
<circle cx="181.5" cy="603.7" r="3.3" fill="#00F800"/>
<circle cx="183.6" cy="576.2" r="3.3" fill="#00F800"/>
<circle cx="186.1" cy="567.6" r="3.3" fill="#00F800"/>
<circle cx="188.4" cy="633.4" r="3.3" fill="#00F800"/>
<circle cx="190.7" cy="607.9" r="3.3" fill="#00F800"/>
<circle cx="193" cy="594.4" r="3.3" fill="#00F800"/>
<circle cx="195.1" cy="626.7" r="3.3" fill="#00F800"/>
<circle cx="197.6" cy="622.1" r="3.3" fill="#00F800"/>
<circle cx="199.7" cy="599.2" r="3.3" fill="#00F800"/>
<circle cx="201.9" cy="608.8" r="3.3" fill="#00F800"/>
<circle cx="204.5" cy="568.9" r="3.3" fill="#00F800"/>
<circle cx="206.7" cy="611.7" r="3.3" fill="#00F800"/>
<circle cx="209" cy="617.5" r="3.3" fill="#00F800"/>
<circle cx="211.3" cy="630.5" r="3.3" fill="#00F800"/>
<circle cx="213.8" cy="613.6" r="3.3" fill="#00F800"/>
<circle cx="215.7" cy="535.5" r="3.3" fill="#00F800"/>
<circle cx="218.2" cy="578.7" r="3.3" fill="#00F800"/>
<circle cx="220.7" cy="534.5" r="3.3" fill="#00F800"/>
<circle cx="223" cy="613.3" r="3.3" fill="#00F800"/>
<circle cx="225.3" cy="621.9" r="3.3" fill="#00F800"/>
<circle cx="227.2" cy="582.5" r="3.3" fill="#00F800"/>
<circle cx="229.5" cy="601.7" r="3.3" fill="#FF0000"/>
<circle cx="232" cy="609.8" r="3.3" fill="#00F800"/>
<circle cx="234.3" cy="632.5" r="3.3" fill="#00F800"/>
<circle cx="236.6" cy="601.9" r="3.3" fill="#00F800"/>
<circle cx="238.7" cy="620.8" r="3.3" fill="#00F800"/>
<circle cx="241" cy="582.9" r="3.3" fill="#FF0000"/>
<circle cx="243.5" cy="616.9" r="3.3" fill="#00F800"/>
<circle cx="245.8" cy="628.1" r="3.3" fill="#00F800"/>
<circle cx="247.9" cy="606.5" r="3.3" fill="#00F800"/>
<circle cx="250.2" cy="621.9" r="3.3" fill="#00F800"/>
<circle cx="253.7" cy="621.7" r="3.3" fill="#00F800"/>
<circle cx="255" cy="603.7" r="3.3" fill="#00F800"/>
<circle cx="257.3" cy="591" r="3.3" fill="#00F800"/>
<circle cx="259.5" cy="626.1" r="3.3" fill="#00F800"/>
<circle cx="262.1" cy="583.9" r="3.3" fill="#00F800"/>
<circle cx="264.3" cy="631.5" r="3.3" fill="#00F800"/>
<circle cx="266.6" cy="603.1" r="3.3" fill="#00F800"/>
<circle cx="268.9" cy="615.2" r="3.3" fill="#00F800"/>
<circle cx="271" cy="605.6" r="3.3" fill="#00F800"/>
<circle cx="273.3" cy="509" r="3.3" fill="#00F800"/>
<circle cx="275.2" cy="607.9" r="3.3" fill="#00F800"/>
<circle cx="277.5" cy="573.7" r="3.3" fill="#00F800"/>
<circle cx="279.5" cy="621.2" r="3.3" fill="#00F800"/>
<circle cx="282.7" cy="495.6" r="3.3" fill="#00F800"/>
<circle cx="285" cy="616" r="3.3" fill="#00F800"/>
<circle cx="287.3" cy="502.7" r="3.3" fill="#00F800"/>
<circle cx="289.4" cy="586.8" r="3.3" fill="#FF0000"/>
<circle cx="291.9" cy="550.3" r="3.3" fill="#00F800"/>
<circle cx="294.2" cy="612.1" r="3.3" fill="#00F800"/>
<circle cx="296.5" cy="615.6" r="3.3" fill="#00F800"/>
<circle cx="299" cy="616.5" r="3.3" fill="#00F800"/>
<circle cx="301.1" cy="527.2" r="3.3" fill="#00F800"/>
<circle cx="303.4" cy="621.7" r="3.3" fill="#00F800"/>
<circle cx="306.1" cy="620.6" r="3.3" fill="#00F800"/>
<circle cx="308" cy="531.3" r="3.3" fill="#FF0000"/>
<circle cx="310.1" cy="592.5" r="3.3" fill="#00F800"/>
<circle cx="312.4" cy="617.5" r="3.3" fill="#00F800"/>
<circle cx="314.7" cy="605.2" r="3.3" fill="#00F800"/>
<circle cx="316.9" cy="617.5" r="3.3" fill="#FF0000"/>
<circle cx="319.5" cy="625.7" r="3.3" fill="#00F800"/>
<circle cx="321.7" cy="617.5" r="3.3" fill="#00F800"/>
<circle cx="324.2" cy="553.7" r="3.3" fill="#00F800"/>
<circle cx="326.3" cy="571.4" r="3.3" fill="#00F800"/>
<circle cx="328.8" cy="543.8" r="3.3" fill="#00F800"/>
<circle cx="330.9" cy="527.8" r="3.3" fill="#00F800"/>
<circle cx="333.2" cy="629.6" r="3.3" fill="#FF0000"/>
<circle cx="335.5" cy="622.7" r="3.3" fill="#FF0000"/>
<circle cx="337.6" cy="601.7" r="3.3" fill="#00F800"/>
<circle cx="340.3" cy="618.8" r="3.3" fill="#00F800"/>
<circle cx="342.2" cy="602.1" r="3.3" fill="#00F800"/>
<circle cx="344.7" cy="609.8" r="3.3" fill="#00F800"/>
<circle cx="347" cy="617.1" r="3.3" fill="#00F800"/>
<circle cx="349.3" cy="605" r="3.3" fill="#00F800"/>
<circle cx="351.8" cy="618.4" r="3.3" fill="#00F800"/>
<circle cx="353.7" cy="633.8" r="3.3" fill="#00F800"/>
<circle cx="356.2" cy="538" r="3.3" fill="#00F800"/>
<circle cx="358.5" cy="557.6" r="3.3" fill="#00F800"/>
<circle cx="360.8" cy="597.9" r="3.3" fill="#00F800"/>
<circle cx="362.9" cy="614.2" r="3.3" fill="#00F800"/>
<circle cx="365.2" cy="628.8" r="3.3" fill="#00F800"/>
<circle cx="367.7" cy="528.8" r="3.3" fill="#00F800"/>
<circle cx="370" cy="617.5" r="3.3" fill="#00F800"/>
<circle cx="372.5" cy="616.1" r="3.3" fill="#00F800"/>
<circle cx="374.5" cy="634" r="3.3" fill="#00F800"/>
<circle cx="376.8" cy="608.5" r="3.3" fill="#00F800"/>
<circle cx="379.1" cy="580.6" r="3.3" fill="#00F800"/>
<circle cx="381.6" cy="618.8" r="3.3" fill="#00F800"/>
<circle cx="384.4" cy="620.4" r="3.3" fill="#00F800"/>
<circle cx="386" cy="607.3" r="3.3" fill="#00F800"/>
<circle cx="388.3" cy="610.8" r="3.3" fill="#00F800"/>
<circle cx="390.8" cy="615.6" r="3.3" fill="#00F800"/>
<circle cx="393.1" cy="631.9" r="3.3" fill="#00F800"/>
<circle cx="394.7" cy="601.9" r="3.3" fill="#00F800"/>
<circle cx="396.5" cy="500.4" r="3.3" fill="#00F800"/>
<circle cx="400" cy="600.6" r="3.3" fill="#00F800"/>
<circle cx="402.1" cy="606.9" r="3.3" fill="#00F800"/>
<circle cx="404.4" cy="548.4" r="3.3" fill="#00F800"/>
<circle cx="407.3" cy="597.3" r="3.3" fill="#00F800"/>
<circle cx="409.2" cy="605.6" r="3.3" fill="#00F800"/>
<circle cx="411.7" cy="596" r="3.3" fill="#00F800"/>
<circle cx="414" cy="607.9" r="3.3" fill="#00F800"/>
<circle cx="415.9" cy="616.1" r="3.3" fill="#00F800"/>
<circle cx="418.4" cy="607.5" r="3.3" fill="#00F800"/>
<circle cx="420.7" cy="617.5" r="3.3" fill="#00F800"/>
<circle cx="423" cy="606.5" r="3.3" fill="#FF0000"/>
<circle cx="425.1" cy="633.8" r="3.3" fill="#00F800"/>
<circle cx="427.6" cy="619.4" r="3.3" fill="#00F800"/>
<circle cx="429.7" cy="588.3" r="3.3" fill="#FF0000"/>
<circle cx="432.2" cy="633.8" r="3.3" fill="#00F800"/>
<circle cx="436.7" cy="627.1" r="3.3" fill="#00F800"/>
<circle cx="439" cy="634.4" r="3.3" fill="#00F800"/>
<circle cx="441.3" cy="547.4" r="3.3" fill="#00F800"/>
<circle cx="443.8" cy="614" r="3.3" fill="#00F800"/>
<circle cx="445.9" cy="592" r="3.3" fill="#00F800"/>
<circle cx="448.4" cy="562.8" r="3.3" fill="#00F800"/>
<circle cx="450.5" cy="605" r="3.3" fill="#00F800"/>
<circle cx="454.3" cy="607.9" r="3.3" fill="#00F800"/>
<circle cx="455.3" cy="611.7" r="3.3" fill="#00F800"/>
<circle cx="457.2" cy="606.9" r="3.3" fill="#00F800"/>
<circle cx="459.7" cy="566.6" r="3.3" fill="#00F800"/>
<circle cx="462" cy="601.2" r="3.3" fill="#00F800"/>
<circle cx="464.3" cy="620.8" r="3.3" fill="#00F800"/>
<circle cx="466.8" cy="597.9" r="3.3" fill="#00F800"/>
<circle cx="468.7" cy="612.7" r="3.3" fill="#00F800"/>
<circle cx="471.2" cy="621.7" r="3.3" fill="#00F800"/>
<circle cx="473.9" cy="615.2" r="3.3" fill="#00F800"/>
<circle cx="477.4" cy="617.1" r="3.3" fill="#00F800"/>
<circle cx="477.9" cy="581" r="3.3" fill="#00F800"/>
<circle cx="480.2" cy="614.6" r="3.3" fill="#00F800"/>
<circle cx="483.7" cy="614.2" r="3.3" fill="#00F800"/>
<circle cx="485" cy="593.1" r="3.3" fill="#00F800"/>
<circle cx="487" cy="622.3" r="3.3" fill="#00F800"/>
<circle cx="491.8" cy="617.1" r="3.3" fill="#FF0000"/>
<circle cx="493.7" cy="622.3" r="3.3" fill="#00F800"/>
<circle cx="496.6" cy="603.1" r="3.3" fill="#00F800"/>
<circle cx="498.5" cy="621" r="3.3" fill="#00F800"/>
<circle cx="501" cy="630.5" r="3.3" fill="#00F800"/>
<circle cx="503.3" cy="573.7" r="3.3" fill="#00F800"/>
<circle cx="505.8" cy="599.6" r="3.3" fill="#00F800"/>
<circle cx="507.8" cy="531" r="3.3" fill="#00F800"/>
<circle cx="509.9" cy="621.7" r="3.3" fill="#FF0000"/>
<circle cx="511.3" cy="569.3" r="3.3" fill="#00F800"/>
<circle cx="515" cy="615.6" r="3.3" fill="#00F800"/>
<circle cx="517.1" cy="583.9" r="3.3" fill="#00F800"/>
<circle cx="519.6" cy="634.4" r="3.3" fill="#00F800"/>
<circle cx="521.9" cy="606.5" r="3.3" fill="#00F800"/>
<circle cx="524.2" cy="616.1" r="3.3" fill="#00F800"/>
<circle cx="526.5" cy="523.8" r="3.3" fill="#00F800"/>
<circle cx="528.6" cy="586.8" r="3.3" fill="#00F800"/>
<circle cx="531.1" cy="556.4" r="3.3" fill="#00F800"/>
<circle cx="533.4" cy="634.2" r="3.3" fill="#00F800"/>
<circle cx="535.7" cy="626.3" r="3.3" fill="#00F800"/>
<circle cx="538" cy="616.5" r="3.3" fill="#00F800"/>
<circle cx="540.1" cy="579.1" r="3.3" fill="#00F800"/>
<circle cx="542.6" cy="536.5" r="3.3" fill="#00F800"/>
<circle cx="544.7" cy="590" r="3.3" fill="#00F800"/>
<circle cx="547.2" cy="626.7" r="3.3" fill="#00F800"/>
<circle cx="549.5" cy="623.3" r="3.3" fill="#00F800"/>
<circle cx="551.7" cy="614.6" r="3.3" fill="#00F800"/>
<circle cx="554.2" cy="622.7" r="3.3" fill="#00F800"/>
<circle cx="556.3" cy="557.6" r="3.3" fill="#00F800"/>
<circle cx="558.8" cy="623.6" r="3.3" fill="#00F800"/>
<circle cx="560.9" cy="613.6" r="3.3" fill="#00F800"/>
<circle cx="563.2" cy="573.7" r="3.3" fill="#00F800"/>
<circle cx="565.5" cy="541.3" r="3.3" fill="#00F800"/>
<circle cx="567.8" cy="617.9" r="3.3" fill="#00F800"/>
<circle cx="570.3" cy="631.9" r="3.3" fill="#00F800"/>
<circle cx="572.2" cy="542" r="3.3" fill="#FF0000"/>
<circle cx="574.7" cy="558.3" r="3.3" fill="#00F800"/>
<circle cx="577" cy="621.3" r="3.3" fill="#00F800"/>
<circle cx="579.3" cy="541.6" r="3.3" fill="#00F800"/>
<circle cx="581.4" cy="611.7" r="3.3" fill="#00F800"/>
<circle cx="583.7" cy="613.3" r="3.3" fill="#00F800"/>
<circle cx="586.2" cy="607.3" r="3.3" fill="#00F800"/>
<circle cx="588.5" cy="633.2" r="3.3" fill="#00F800"/>
<circle cx="590.8" cy="621.7" r="3.3" fill="#00F800"/>
<circle cx="592.9" cy="588.7" r="3.3" fill="#FF0000"/>
<circle cx="595.2" cy="594.8" r="3.3" fill="#FF0000"/>
<circle cx="597.7" cy="597" r="3.3" fill="#FF0000"/>
<circle cx="600" cy="606.9" r="3.3" fill="#00F800"/>
<circle cx="602" cy="620.4" r="3.3" fill="#00F800"/>
<circle cx="604.8" cy="621.7" r="3.3" fill="#00F800"/>
<circle cx="606.85" cy="572.45" r="3.3" fill="#FF0000"/>
<circle cx="609.3" cy="621.7" r="3.3" fill="#00F800"/>
<circle cx="611.6" cy="612.7" r="3.3" fill="#00F800"/>
<circle cx="613.65" cy="627.55" r="3.3" fill="#FF0000"/>
<circle cx="616.15" cy="611.6" r="3.3" fill="#FF0000"/>
<circle cx="618.5" cy="634.5" r="3.3" fill="#00F800"/>
<circle cx="620.8" cy="627.6" r="3.3" fill="#00F800"/>
<circle cx="623.3" cy="627" r="3.3" fill="#00F800"/>
<circle cx="624.7" cy="617.95" r="3.3" fill="#FF0000"/>
<circle cx="627.9" cy="633.6" r="3.3" fill="#00F800"/>
<circle cx="629.8" cy="617.6" r="3.3" fill="#FF0000"/>
<circle cx="631.7" cy="623" r="3.3" fill="#FF0000"/>
<circle cx="634.6" cy="625.3" r="3.3" fill="#FF0000"/>
<circle cx="636.9" cy="616.7" r="3.3" fill="#FF0000"/>
<circle cx="639" cy="582.1" r="3.3" fill="#FF0000"/>
<circle cx="641" cy="626.9" r="3.3" fill="#00F800"/>
<circle cx="643.8" cy="620.1" r="3.3" fill="#00F800"/>
<circle cx="646.1" cy="626.3" r="3.3" fill="#FF0000"/>
<circle cx="648.4" cy="579.6" r="3.3" fill="#00F800"/>
<circle cx="650.6" cy="620.7" r="3.3" fill="#FF0000"/>
<circle cx="652.9" cy="613.8" r="3.3" fill="#FF0000"/>
<circle cx="655.7" cy="623" r="3.3" fill="#FF0000"/>
<circle cx="659.6" cy="623.8" r="3.3" fill="#FF0000"/>
<circle cx="661.9" cy="610.3" r="3.3" fill="#FF0000"/>
<circle cx="664.8" cy="625.9" r="3.3" fill="#FF0000"/>
<circle cx="666.3" cy="632.6" r="3.3" fill="#00F800"/>
<circle cx="668.2" cy="629.6" r="3.3" fill="#FF0000"/>
<circle cx="671.1" cy="631.5" r="3.3" fill="#00F800"/>
<circle cx="673.4" cy="619.6" r="3.3" fill="#00F800"/>
<circle cx="675.9" cy="634.6" r="3.3" fill="#00F800"/>
<circle cx="678.2" cy="623" r="3.3" fill="#FF0000"/>
<rect x="46.8" y="490.2" width="656" height="149.6" fill="none" stroke="#000" stroke-width="1.2"/>
<line x1="41.6" y1="634.7" x2="46.8" y2="634.7" stroke="#000" stroke-width="1.1" />
<text x="35.3" y="638.6" font-size="11.2" text-anchor="end" fill="#000" stroke="#000" stroke-width="0.33" >0</text>
<line x1="41.6" y1="609" x2="46.8" y2="609" stroke="#000" stroke-width="1.1" />
<text x="35.3" y="612.9" font-size="11.2" text-anchor="end" fill="#000" stroke="#000" stroke-width="0.33" >2</text>
<line x1="41.6" y1="583.3" x2="46.8" y2="583.3" stroke="#000" stroke-width="1.1" />
<text x="35.3" y="587.2" font-size="11.2" text-anchor="end" fill="#000" stroke="#000" stroke-width="0.33" >4</text>
<line x1="41.6" y1="557.6" x2="46.8" y2="557.6" stroke="#000" stroke-width="1.1" />
<text x="35.3" y="561.5" font-size="11.2" text-anchor="end" fill="#000" stroke="#000" stroke-width="0.33" >6</text>
<line x1="41.6" y1="531.9" x2="46.8" y2="531.9" stroke="#000" stroke-width="1.1" />
<text x="35.3" y="535.8" font-size="11.2" text-anchor="end" fill="#000" stroke="#000" stroke-width="0.33" >8</text>
<line x1="41.6" y1="506.2" x2="46.8" y2="506.2" stroke="#000" stroke-width="1.1" />
<text x="35.3" y="510.1" font-size="11.2" text-anchor="end" fill="#000" stroke="#000" stroke-width="0.33" >10</text>
<line x1="68.7" y1="639.8" x2="68.7" y2="647.5" stroke="#000" stroke-width="1.1" />
<text x="68.7" y="663.6" font-size="11.2" text-anchor="middle" fill="#000" stroke="#000" stroke-width="0.33" >0</text>
<line x1="183.75" y1="639.8" x2="183.75" y2="647.5" stroke="#000" stroke-width="1.1" />
<text x="183.75" y="663.6" font-size="11.2" text-anchor="middle" fill="#000" stroke="#000" stroke-width="0.33" >50</text>
<line x1="298.8" y1="639.8" x2="298.8" y2="647.5" stroke="#000" stroke-width="1.1" />
<text x="298.8" y="663.6" font-size="11.2" text-anchor="middle" fill="#000" stroke="#000" stroke-width="0.33" >100</text>
<line x1="413.85" y1="639.8" x2="413.85" y2="647.5" stroke="#000" stroke-width="1.1" />
<text x="413.85" y="663.6" font-size="11.2" text-anchor="middle" fill="#000" stroke="#000" stroke-width="0.33" >150</text>
<line x1="528.9" y1="639.8" x2="528.9" y2="647.5" stroke="#000" stroke-width="1.1" />
<text x="528.9" y="663.6" font-size="11.2" text-anchor="middle" fill="#000" stroke="#000" stroke-width="0.33" >200</text>
<line x1="643.95" y1="639.8" x2="643.95" y2="647.5" stroke="#000" stroke-width="1.1" />
<text x="643.95" y="663.6" font-size="11.2" text-anchor="middle" fill="#000" stroke="#000" stroke-width="0.33" >250</text>
<text x="374.8" y="680" font-size="11.8" text-anchor="middle" fill="#000" stroke="#000" stroke-width="0.33" >Patients (increasing risk socre)</text>
<text transform="translate(13,571) rotate(-90)" font-size="11.7" text-anchor="middle" fill="#000" stroke="#000" stroke-width="0.33">Survival time (years)</text>
<circle cx="78" cy="501.3" r="3.8" fill="#FF0000"/>
<circle cx="78" cy="519.6" r="3.8" fill="#00F800"/>
<text x="89.7" y="505.3" font-size="11.7" text-anchor="start" fill="#000" stroke="#000" stroke-width="0.33" >Dead</text>
<text x="89.7" y="523.5" font-size="11.7" text-anchor="start" fill="#000" stroke="#000" stroke-width="0.33" >Alive</text>
<rect x="47.4" y="702.3" width="2.76" height="32.5" fill="#1AF01A"/>
<rect x="49.86" y="702.3" width="2.76" height="32.5" fill="#76F676"/>
<rect x="52.32" y="702.3" width="2.76" height="32.5" fill="#AAF9AA"/>
<rect x="54.78" y="702.3" width="2.76" height="32.5" fill="#76F676"/>
<rect x="57.23" y="702.3" width="2.76" height="32.5" fill="#76F676"/>
<rect x="59.69" y="702.3" width="2.76" height="32.5" fill="#DBFDDB"/>
<rect x="62.15" y="702.3" width="2.76" height="32.5" fill="#76F676"/>
<rect x="64.61" y="702.3" width="2.76" height="32.5" fill="#76F676"/>
<rect x="67.07" y="702.3" width="2.76" height="32.5" fill="#DBFDDB"/>
<rect x="69.53" y="702.3" width="2.76" height="32.5" fill="#DBFDDB"/>
<rect x="71.98" y="702.3" width="2.76" height="32.5" fill="#C1FBC1"/>
<rect x="74.44" y="702.3" width="2.76" height="32.5" fill="#DBFDDB"/>
<rect x="76.9" y="702.3" width="2.76" height="32.5" fill="#90F890"/>
<rect x="79.36" y="702.3" width="2.76" height="32.5" fill="#90F890"/>
<rect x="81.82" y="702.3" width="2.76" height="32.5" fill="#C1FBC1"/>
<rect x="84.28" y="702.3" width="2.76" height="32.5" fill="#AAF9AA"/>
<rect x="86.74" y="702.3" width="2.76" height="32.5" fill="#90F890"/>
<rect x="89.19" y="702.3" width="2.76" height="32.5" fill="#90F890"/>
<rect x="91.65" y="702.3" width="2.76" height="32.5" fill="#FFFFFF"/>
<rect x="94.11" y="702.3" width="2.76" height="32.5" fill="#DBFDDB"/>
<rect x="96.57" y="702.3" width="2.76" height="32.5" fill="#DBFDDB"/>
<rect x="99.03" y="702.3" width="2.76" height="32.5" fill="#AAF9AA"/>
<rect x="101.49" y="702.3" width="2.76" height="32.5" fill="#DBFDDB"/>
<rect x="103.95" y="702.3" width="2.76" height="32.5" fill="#AAF9AA"/>
<rect x="106.4" y="702.3" width="2.76" height="32.5" fill="#DBFDDB"/>
<rect x="108.86" y="702.3" width="2.76" height="32.5" fill="#C1FBC1"/>
<rect x="111.32" y="702.3" width="2.76" height="32.5" fill="#DBFDDB"/>
<rect x="113.78" y="702.3" width="2.76" height="32.5" fill="#AAF9AA"/>
<rect x="116.24" y="702.3" width="2.76" height="32.5" fill="#AAF9AA"/>
<rect x="118.7" y="702.3" width="2.76" height="32.5" fill="#AAF9AA"/>
<rect x="121.15" y="702.3" width="2.76" height="32.5" fill="#AAF9AA"/>
<rect x="123.61" y="702.3" width="2.76" height="32.5" fill="#AAF9AA"/>
<rect x="126.07" y="702.3" width="2.76" height="32.5" fill="#AAF9AA"/>
<rect x="128.53" y="702.3" width="2.76" height="32.5" fill="#AAF9AA"/>
<rect x="130.99" y="702.3" width="2.76" height="32.5" fill="#EFFEEF"/>
<rect x="133.45" y="702.3" width="2.76" height="32.5" fill="#DBFDDB"/>
<rect x="135.91" y="702.3" width="2.76" height="32.5" fill="#76F676"/>
<rect x="138.36" y="702.3" width="2.76" height="32.5" fill="#EFFEEF"/>
<rect x="140.82" y="702.3" width="2.76" height="32.5" fill="#AAF9AA"/>
<rect x="143.28" y="702.3" width="2.76" height="32.5" fill="#AAF9AA"/>
<rect x="145.74" y="702.3" width="2.76" height="32.5" fill="#DBFDDB"/>
<rect x="148.2" y="702.3" width="2.76" height="32.5" fill="#DBFDDB"/>
<rect x="150.66" y="702.3" width="2.76" height="32.5" fill="#C1FBC1"/>
<rect x="153.12" y="702.3" width="2.76" height="32.5" fill="#DBFDDB"/>
<rect x="155.57" y="702.3" width="2.76" height="32.5" fill="#DBFDDB"/>
<rect x="158.03" y="702.3" width="2.76" height="32.5" fill="#FFEBEB"/>
<rect x="160.49" y="702.3" width="2.76" height="32.5" fill="#EFFEEF"/>
<rect x="162.95" y="702.3" width="2.76" height="32.5" fill="#76F676"/>
<rect x="165.41" y="702.3" width="2.76" height="32.5" fill="#AAF9AA"/>
<rect x="167.87" y="702.3" width="2.76" height="32.5" fill="#C1FBC1"/>
<rect x="170.32" y="702.3" width="2.76" height="32.5" fill="#C1FBC1"/>
<rect x="172.78" y="702.3" width="2.76" height="32.5" fill="#DBFDDB"/>
<rect x="175.24" y="702.3" width="2.76" height="32.5" fill="#AAF9AA"/>
<rect x="177.7" y="702.3" width="2.76" height="32.5" fill="#AAF9AA"/>
<rect x="180.16" y="702.3" width="2.76" height="32.5" fill="#C1FBC1"/>
<rect x="182.62" y="702.3" width="2.76" height="32.5" fill="#FFFFFF"/>
<rect x="185.08" y="702.3" width="2.76" height="32.5" fill="#AAF9AA"/>
<rect x="187.53" y="702.3" width="2.76" height="32.5" fill="#C1FBC1"/>
<rect x="189.99" y="702.3" width="2.76" height="32.5" fill="#76F676"/>
<rect x="192.45" y="702.3" width="2.76" height="32.5" fill="#EFFEEF"/>
<rect x="194.91" y="702.3" width="2.76" height="32.5" fill="#FFFFFF"/>
<rect x="197.37" y="702.3" width="2.76" height="32.5" fill="#FFFFFF"/>
<rect x="199.83" y="702.3" width="2.76" height="32.5" fill="#FFD4D4"/>
<rect x="202.28" y="702.3" width="2.76" height="32.5" fill="#DBFDDB"/>
<rect x="204.74" y="702.3" width="2.76" height="32.5" fill="#AAF9AA"/>
<rect x="207.2" y="702.3" width="2.76" height="32.5" fill="#AAF9AA"/>
<rect x="209.66" y="702.3" width="2.76" height="32.5" fill="#FFEBEB"/>
<rect x="212.12" y="702.3" width="2.76" height="32.5" fill="#DBFDDB"/>
<rect x="214.58" y="702.3" width="2.76" height="32.5" fill="#90F890"/>
<rect x="217.04" y="702.3" width="2.76" height="32.5" fill="#FFFFFF"/>
<rect x="219.49" y="702.3" width="2.76" height="32.5" fill="#FFEBEB"/>
<rect x="221.95" y="702.3" width="2.76" height="32.5" fill="#FFEBEB"/>
<rect x="224.41" y="702.3" width="2.76" height="32.5" fill="#FFEBEB"/>
<rect x="226.87" y="702.3" width="2.76" height="32.5" fill="#FFFFFF"/>
<rect x="229.33" y="702.3" width="2.76" height="32.5" fill="#FF8383"/>
<rect x="231.79" y="702.3" width="2.76" height="32.5" fill="#EFFEEF"/>
<rect x="234.25" y="702.3" width="2.76" height="32.5" fill="#DBFDDB"/>
<rect x="236.7" y="702.3" width="2.76" height="32.5" fill="#DBFDDB"/>
<rect x="239.16" y="702.3" width="2.76" height="32.5" fill="#DBFDDB"/>
<rect x="241.62" y="702.3" width="2.76" height="32.5" fill="#DBFDDB"/>
<rect x="244.08" y="702.3" width="2.76" height="32.5" fill="#FFFFFF"/>
<rect x="246.54" y="702.3" width="2.76" height="32.5" fill="#FFFFFF"/>
<rect x="249" y="702.3" width="2.76" height="32.5" fill="#FFEBEB"/>
<rect x="251.45" y="702.3" width="2.76" height="32.5" fill="#DBFDDB"/>
<rect x="253.91" y="702.3" width="2.76" height="32.5" fill="#C1FBC1"/>
<rect x="256.37" y="702.3" width="2.76" height="32.5" fill="#FFEBEB"/>
<rect x="258.83" y="702.3" width="2.76" height="32.5" fill="#FFEBEB"/>
<rect x="261.29" y="702.3" width="2.76" height="32.5" fill="#EFFEEF"/>
<rect x="263.75" y="702.3" width="2.76" height="32.5" fill="#FFD4D4"/>
<rect x="266.21" y="702.3" width="2.76" height="32.5" fill="#FFD4D4"/>
<rect x="268.66" y="702.3" width="2.76" height="32.5" fill="#EFFEEF"/>
<rect x="271.12" y="702.3" width="2.76" height="32.5" fill="#90F890"/>
<rect x="273.58" y="702.3" width="2.76" height="32.5" fill="#EFFEEF"/>
<rect x="276.04" y="702.3" width="2.76" height="32.5" fill="#FFFFFF"/>
<rect x="278.5" y="702.3" width="2.76" height="32.5" fill="#90F890"/>
<rect x="280.96" y="702.3" width="2.76" height="32.5" fill="#FFFFFF"/>
<rect x="283.42" y="702.3" width="2.76" height="32.5" fill="#AAF9AA"/>
<rect x="285.87" y="702.3" width="2.76" height="32.5" fill="#FFEBEB"/>
<rect x="288.33" y="702.3" width="2.76" height="32.5" fill="#FFD4D4"/>
<rect x="290.79" y="702.3" width="2.76" height="32.5" fill="#DBFDDB"/>
<rect x="293.25" y="702.3" width="2.76" height="32.5" fill="#FFA3A3"/>
<rect x="295.71" y="702.3" width="2.76" height="32.5" fill="#FFA3A3"/>
<rect x="298.17" y="702.3" width="2.76" height="32.5" fill="#FFA3A3"/>
<rect x="300.62" y="702.3" width="2.76" height="32.5" fill="#FFBEBE"/>
<rect x="303.08" y="702.3" width="2.76" height="32.5" fill="#FFFFFF"/>
<rect x="305.54" y="702.3" width="2.76" height="32.5" fill="#FFA3A3"/>
<rect x="308" y="702.3" width="2.76" height="32.5" fill="#EFFEEF"/>
<rect x="310.46" y="702.3" width="2.76" height="32.5" fill="#FFBEBE"/>
<rect x="312.92" y="702.3" width="2.76" height="32.5" fill="#EFFEEF"/>
<rect x="315.38" y="702.3" width="2.76" height="32.5" fill="#FFFFFF"/>
<rect x="317.83" y="702.3" width="2.76" height="32.5" fill="#FFFFFF"/>
<rect x="320.29" y="702.3" width="2.76" height="32.5" fill="#FFBEBE"/>
<rect x="322.75" y="702.3" width="2.76" height="32.5" fill="#FFD4D4"/>
<rect x="325.21" y="702.3" width="2.76" height="32.5" fill="#FF8383"/>
<rect x="327.67" y="702.3" width="2.76" height="32.5" fill="#EFFEEF"/>
<rect x="330.13" y="702.3" width="2.76" height="32.5" fill="#FFD4D4"/>
<rect x="332.58" y="702.3" width="2.76" height="32.5" fill="#EFFEEF"/>
<rect x="335.04" y="702.3" width="2.76" height="32.5" fill="#FFFFFF"/>
<rect x="337.5" y="702.3" width="2.76" height="32.5" fill="#C1FBC1"/>
<rect x="339.96" y="702.3" width="2.76" height="32.5" fill="#FFEBEB"/>
<rect x="342.42" y="702.3" width="2.76" height="32.5" fill="#FFD4D4"/>
<rect x="344.88" y="702.3" width="2.76" height="32.5" fill="#FFD4D4"/>
<rect x="347.34" y="702.3" width="2.76" height="32.5" fill="#FFEBEB"/>
<rect x="349.79" y="702.3" width="2.76" height="32.5" fill="#EFFEEF"/>
<rect x="352.25" y="702.3" width="2.76" height="32.5" fill="#FFA3A3"/>
<rect x="354.71" y="702.3" width="2.76" height="32.5" fill="#EFFEEF"/>
<rect x="357.17" y="702.3" width="2.76" height="32.5" fill="#FFFFFF"/>
<rect x="359.63" y="702.3" width="2.76" height="32.5" fill="#FFEBEB"/>
<rect x="362.09" y="702.3" width="2.76" height="32.5" fill="#FFFFFF"/>
<rect x="364.55" y="702.3" width="2.76" height="32.5" fill="#FFEBEB"/>
<rect x="367" y="702.3" width="2.76" height="32.5" fill="#FFEBEB"/>
<rect x="369.46" y="702.3" width="2.76" height="32.5" fill="#FFD4D4"/>
<rect x="371.92" y="702.3" width="2.76" height="32.5" fill="#EFFEEF"/>
<rect x="374.38" y="702.3" width="2.76" height="32.5" fill="#FFBEBE"/>
<rect x="376.84" y="702.3" width="2.76" height="32.5" fill="#FFFFFF"/>
<rect x="379.3" y="702.3" width="2.76" height="32.5" fill="#DBFDDB"/>
<rect x="381.75" y="702.3" width="2.76" height="32.5" fill="#DBFDDB"/>
<rect x="384.21" y="702.3" width="2.76" height="32.5" fill="#C1FBC1"/>
<rect x="386.67" y="702.3" width="2.76" height="32.5" fill="#DBFDDB"/>
<rect x="389.13" y="702.3" width="2.76" height="32.5" fill="#EFFEEF"/>
<rect x="391.59" y="702.3" width="2.76" height="32.5" fill="#FFD4D4"/>
<rect x="394.05" y="702.3" width="2.76" height="32.5" fill="#90F890"/>
<rect x="396.51" y="702.3" width="2.76" height="32.5" fill="#FFFFFF"/>
<rect x="398.96" y="702.3" width="2.76" height="32.5" fill="#FFBEBE"/>
<rect x="401.42" y="702.3" width="2.76" height="32.5" fill="#DBFDDB"/>
<rect x="403.88" y="702.3" width="2.76" height="32.5" fill="#FFFFFF"/>
<rect x="406.34" y="702.3" width="2.76" height="32.5" fill="#FF5C5C"/>
<rect x="408.8" y="702.3" width="2.76" height="32.5" fill="#FFBEBE"/>
<rect x="411.26" y="702.3" width="2.76" height="32.5" fill="#FFFFFF"/>
<rect x="413.72" y="702.3" width="2.76" height="32.5" fill="#DBFDDB"/>
<rect x="416.17" y="702.3" width="2.76" height="32.5" fill="#FFFFFF"/>
<rect x="418.63" y="702.3" width="2.76" height="32.5" fill="#DBFDDB"/>
<rect x="421.09" y="702.3" width="2.76" height="32.5" fill="#DBFDDB"/>
<rect x="423.55" y="702.3" width="2.76" height="32.5" fill="#FFFFFF"/>
<rect x="426.01" y="702.3" width="2.76" height="32.5" fill="#FFBEBE"/>
<rect x="428.47" y="702.3" width="2.76" height="32.5" fill="#FFD4D4"/>
<rect x="430.92" y="702.3" width="2.76" height="32.5" fill="#FFEBEB"/>
<rect x="433.38" y="702.3" width="2.76" height="32.5" fill="#DBFDDB"/>
<rect x="435.84" y="702.3" width="2.76" height="32.5" fill="#DBFDDB"/>
<rect x="438.3" y="702.3" width="2.76" height="32.5" fill="#EFFEEF"/>
<rect x="440.76" y="702.3" width="2.76" height="32.5" fill="#FFEBEB"/>
<rect x="443.22" y="702.3" width="2.76" height="32.5" fill="#FF8383"/>
<rect x="445.68" y="702.3" width="2.76" height="32.5" fill="#FFFFFF"/>
<rect x="448.13" y="702.3" width="2.76" height="32.5" fill="#FFD4D4"/>
<rect x="450.59" y="702.3" width="2.76" height="32.5" fill="#FFEBEB"/>
<rect x="453.05" y="702.3" width="2.76" height="32.5" fill="#FFFFFF"/>
<rect x="455.51" y="702.3" width="2.76" height="32.5" fill="#C1FBC1"/>
<rect x="457.97" y="702.3" width="2.76" height="32.5" fill="#FFFFFF"/>
<rect x="460.43" y="702.3" width="2.76" height="32.5" fill="#EFFEEF"/>
<rect x="462.88" y="702.3" width="2.76" height="32.5" fill="#90F890"/>
<rect x="465.34" y="702.3" width="2.76" height="32.5" fill="#EFFEEF"/>
<rect x="467.8" y="702.3" width="2.76" height="32.5" fill="#FFD4D4"/>
<rect x="470.26" y="702.3" width="2.76" height="32.5" fill="#FFD4D4"/>
<rect x="472.72" y="702.3" width="2.76" height="32.5" fill="#FFFFFF"/>
<rect x="475.18" y="702.3" width="2.76" height="32.5" fill="#FFD4D4"/>
<rect x="477.64" y="702.3" width="2.76" height="32.5" fill="#FF3B3B"/>
<rect x="480.09" y="702.3" width="2.76" height="32.5" fill="#FFD4D4"/>
<rect x="482.55" y="702.3" width="2.76" height="32.5" fill="#FFEBEB"/>
<rect x="485.01" y="702.3" width="2.76" height="32.5" fill="#DBFDDB"/>
<rect x="487.47" y="702.3" width="2.76" height="32.5" fill="#DBFDDB"/>
<rect x="489.93" y="702.3" width="2.76" height="32.5" fill="#DBFDDB"/>
<rect x="492.39" y="702.3" width="2.76" height="32.5" fill="#DBFDDB"/>
<rect x="494.85" y="702.3" width="2.76" height="32.5" fill="#FFFFFF"/>
<rect x="497.3" y="702.3" width="2.76" height="32.5" fill="#FFD4D4"/>
<rect x="499.76" y="702.3" width="2.76" height="32.5" fill="#FFBEBE"/>
<rect x="502.22" y="702.3" width="2.76" height="32.5" fill="#EFFEEF"/>
<rect x="504.68" y="702.3" width="2.76" height="32.5" fill="#DBFDDB"/>
<rect x="507.14" y="702.3" width="2.76" height="32.5" fill="#DBFDDB"/>
<rect x="509.6" y="702.3" width="2.76" height="32.5" fill="#EFFEEF"/>
<rect x="512.05" y="702.3" width="2.76" height="32.5" fill="#FFD4D4"/>
<rect x="514.51" y="702.3" width="2.76" height="32.5" fill="#FF8383"/>
<rect x="516.97" y="702.3" width="2.76" height="32.5" fill="#EFFEEF"/>
<rect x="519.43" y="702.3" width="2.76" height="32.5" fill="#FFFFFF"/>
<rect x="521.89" y="702.3" width="2.76" height="32.5" fill="#FF8383"/>
<rect x="524.35" y="702.3" width="2.76" height="32.5" fill="#EFFEEF"/>
<rect x="526.81" y="702.3" width="2.76" height="32.5" fill="#FFBEBE"/>
<rect x="529.26" y="702.3" width="2.76" height="32.5" fill="#FFD4D4"/>
<rect x="531.72" y="702.3" width="2.76" height="32.5" fill="#FFA3A3"/>
<rect x="534.18" y="702.3" width="2.76" height="32.5" fill="#FFFFFF"/>
<rect x="536.64" y="702.3" width="2.76" height="32.5" fill="#FFFFFF"/>
<rect x="539.1" y="702.3" width="2.76" height="32.5" fill="#FFD4D4"/>
<rect x="541.56" y="702.3" width="2.76" height="32.5" fill="#FFD4D4"/>
<rect x="544.02" y="702.3" width="2.76" height="32.5" fill="#FFEBEB"/>
<rect x="546.47" y="702.3" width="2.76" height="32.5" fill="#FF1A1A"/>
<rect x="548.93" y="702.3" width="2.76" height="32.5" fill="#FF8383"/>
<rect x="551.39" y="702.3" width="2.76" height="32.5" fill="#FFFFFF"/>
<rect x="553.85" y="702.3" width="2.76" height="32.5" fill="#FFA3A3"/>
<rect x="556.31" y="702.3" width="2.76" height="32.5" fill="#C1FBC1"/>
<rect x="558.77" y="702.3" width="2.76" height="32.5" fill="#C1FBC1"/>
<rect x="561.22" y="702.3" width="2.76" height="32.5" fill="#FFFFFF"/>
<rect x="563.68" y="702.3" width="2.76" height="32.5" fill="#EFFEEF"/>
<rect x="566.14" y="702.3" width="2.76" height="32.5" fill="#FF5C5C"/>
<rect x="568.6" y="702.3" width="2.76" height="32.5" fill="#FFEBEB"/>
<rect x="571.06" y="702.3" width="2.76" height="32.5" fill="#DBFDDB"/>
<rect x="573.52" y="702.3" width="2.76" height="32.5" fill="#FFFFFF"/>
<rect x="575.98" y="702.3" width="2.76" height="32.5" fill="#FFA3A3"/>
<rect x="578.43" y="702.3" width="2.76" height="32.5" fill="#FFBEBE"/>
<rect x="580.89" y="702.3" width="2.76" height="32.5" fill="#FFBEBE"/>
<rect x="583.35" y="702.3" width="2.76" height="32.5" fill="#90F890"/>
<rect x="585.81" y="702.3" width="2.76" height="32.5" fill="#FFD4D4"/>
<rect x="588.27" y="702.3" width="2.76" height="32.5" fill="#FFBEBE"/>
<rect x="590.73" y="702.3" width="2.76" height="32.5" fill="#FFFFFF"/>
<rect x="593.18" y="702.3" width="2.76" height="32.5" fill="#FFA3A3"/>
<rect x="595.64" y="702.3" width="2.76" height="32.5" fill="#FFA3A3"/>
<rect x="598.1" y="702.3" width="2.76" height="32.5" fill="#FFA3A3"/>
<rect x="600.56" y="702.3" width="2.76" height="32.5" fill="#FFBEBE"/>
<rect x="603.02" y="702.3" width="2.76" height="32.5" fill="#FF8383"/>
<rect x="605.48" y="702.3" width="2.76" height="32.5" fill="#FF8383"/>
<rect x="607.94" y="702.3" width="2.76" height="32.5" fill="#FFFFFF"/>
<rect x="610.39" y="702.3" width="2.76" height="32.5" fill="#FFD4D4"/>
<rect x="612.85" y="702.3" width="2.76" height="32.5" fill="#FFEBEB"/>
<rect x="615.31" y="702.3" width="2.76" height="32.5" fill="#FF5C5C"/>
<rect x="617.77" y="702.3" width="2.76" height="32.5" fill="#FFFFFF"/>
<rect x="620.23" y="702.3" width="2.76" height="32.5" fill="#FFBEBE"/>
<rect x="622.69" y="702.3" width="2.76" height="32.5" fill="#FFBEBE"/>
<rect x="625.15" y="702.3" width="2.76" height="32.5" fill="#FFD4D4"/>
<rect x="627.6" y="702.3" width="2.76" height="32.5" fill="#FFEBEB"/>
<rect x="630.06" y="702.3" width="2.76" height="32.5" fill="#FFBEBE"/>
<rect x="632.52" y="702.3" width="2.76" height="32.5" fill="#FFBEBE"/>
<rect x="634.98" y="702.3" width="2.76" height="32.5" fill="#FFBEBE"/>
<rect x="637.44" y="702.3" width="2.76" height="32.5" fill="#FFFFFF"/>
<rect x="639.9" y="702.3" width="2.76" height="32.5" fill="#FFA3A3"/>
<rect x="642.35" y="702.3" width="2.76" height="32.5" fill="#FFA3A3"/>
<rect x="644.81" y="702.3" width="2.76" height="32.5" fill="#FFBEBE"/>
<rect x="647.27" y="702.3" width="2.76" height="32.5" fill="#FFFFFF"/>
<rect x="649.73" y="702.3" width="2.76" height="32.5" fill="#FFD4D4"/>
<rect x="652.19" y="702.3" width="2.76" height="32.5" fill="#FFEBEB"/>
<rect x="654.65" y="702.3" width="2.76" height="32.5" fill="#EFFEEF"/>
<rect x="657.11" y="702.3" width="2.76" height="32.5" fill="#FFEBEB"/>
<rect x="659.56" y="702.3" width="2.76" height="32.5" fill="#FFD4D4"/>
<rect x="662.02" y="702.3" width="2.76" height="32.5" fill="#FFBEBE"/>
<rect x="664.48" y="702.3" width="2.76" height="32.5" fill="#FFA3A3"/>
<rect x="666.94" y="702.3" width="2.76" height="32.5" fill="#FF8383"/>
<rect x="669.4" y="702.3" width="2.76" height="32.5" fill="#FFD4D4"/>
<rect x="671.86" y="702.3" width="2.76" height="32.5" fill="#FFD4D4"/>
<rect x="674.32" y="702.3" width="2.76" height="32.5" fill="#FF5C5C"/>
<rect x="676.77" y="702.3" width="2.76" height="32.5" fill="#FFEBEB"/>
<rect x="679.23" y="702.3" width="2.76" height="32.5" fill="#FFA3A3"/>
<rect x="681.69" y="702.3" width="2.76" height="32.5" fill="#FFA3A3"/>
<rect x="684.15" y="702.3" width="2.76" height="32.5" fill="#FF8383"/>
<rect x="686.61" y="702.3" width="2.76" height="32.5" fill="#FF1A1A"/>
<rect x="689.07" y="702.3" width="2.76" height="32.5" fill="#FFFFFF"/>
<rect x="691.52" y="702.3" width="2.76" height="32.5" fill="#FF5C5C"/>
<rect x="693.98" y="702.3" width="2.76" height="32.5" fill="#FF5C5C"/>
<rect x="696.44" y="702.3" width="2.76" height="32.5" fill="#FF1A1A"/>
<rect x="47.4" y="734.8" width="2.76" height="32.3" fill="#D0FCD0"/>
<rect x="49.86" y="734.8" width="2.76" height="32.3" fill="#D0FCD0"/>
<rect x="52.32" y="734.8" width="2.76" height="32.3" fill="#D0FCD0"/>
<rect x="54.78" y="734.8" width="2.76" height="32.3" fill="#BFFBBF"/>
<rect x="57.23" y="734.8" width="2.76" height="32.3" fill="#D0FCD0"/>
<rect x="59.69" y="734.8" width="2.76" height="32.3" fill="#E4FDE4"/>
<rect x="62.15" y="734.8" width="2.76" height="32.3" fill="#D0FCD0"/>
<rect x="64.61" y="734.8" width="2.76" height="32.3" fill="#E4FDE4"/>
<rect x="67.07" y="734.8" width="2.76" height="32.3" fill="#D0FCD0"/>
<rect x="69.53" y="734.8" width="2.76" height="32.3" fill="#D0FCD0"/>
<rect x="71.98" y="734.8" width="2.76" height="32.3" fill="#E4FDE4"/>
<rect x="74.44" y="734.8" width="2.76" height="32.3" fill="#D0FCD0"/>
<rect x="76.9" y="734.8" width="2.76" height="32.3" fill="#E4FDE4"/>
<rect x="79.36" y="734.8" width="2.76" height="32.3" fill="#E4FDE4"/>
<rect x="81.82" y="734.8" width="2.76" height="32.3" fill="#D0FCD0"/>
<rect x="84.28" y="734.8" width="2.76" height="32.3" fill="#E4FDE4"/>
<rect x="86.74" y="734.8" width="2.76" height="32.3" fill="#D0FCD0"/>
<rect x="89.19" y="734.8" width="2.76" height="32.3" fill="#E4FDE4"/>
<rect x="91.65" y="734.8" width="2.76" height="32.3" fill="#E4FDE4"/>
<rect x="94.11" y="734.8" width="2.76" height="32.3" fill="#D0FCD0"/>
<rect x="96.57" y="734.8" width="2.76" height="32.3" fill="#E4FDE4"/>
<rect x="99.03" y="734.8" width="2.76" height="32.3" fill="#BFFBBF"/>
<rect x="101.49" y="734.8" width="2.76" height="32.3" fill="#BFFBBF"/>
<rect x="103.95" y="734.8" width="2.76" height="32.3" fill="#E4FDE4"/>
<rect x="106.4" y="734.8" width="2.76" height="32.3" fill="#E4FDE4"/>
<rect x="108.86" y="734.8" width="2.76" height="32.3" fill="#D0FCD0"/>
<rect x="111.32" y="734.8" width="2.76" height="32.3" fill="#E4FDE4"/>
<rect x="113.78" y="734.8" width="2.76" height="32.3" fill="#E4FDE4"/>
<rect x="116.24" y="734.8" width="2.76" height="32.3" fill="#D0FCD0"/>
<rect x="118.7" y="734.8" width="2.76" height="32.3" fill="#E4FDE4"/>
<rect x="121.15" y="734.8" width="2.76" height="32.3" fill="#F3FEF3"/>
<rect x="123.61" y="734.8" width="2.76" height="32.3" fill="#F3FEF3"/>
<rect x="126.07" y="734.8" width="2.76" height="32.3" fill="#FFFFFF"/>
<rect x="128.53" y="734.8" width="2.76" height="32.3" fill="#E4FDE4"/>
<rect x="130.99" y="734.8" width="2.76" height="32.3" fill="#E4FDE4"/>
<rect x="133.45" y="734.8" width="2.76" height="32.3" fill="#D0FCD0"/>
<rect x="135.91" y="734.8" width="2.76" height="32.3" fill="#E4FDE4"/>
<rect x="138.36" y="734.8" width="2.76" height="32.3" fill="#E4FDE4"/>
<rect x="140.82" y="734.8" width="2.76" height="32.3" fill="#D0FCD0"/>
<rect x="143.28" y="734.8" width="2.76" height="32.3" fill="#D0FCD0"/>
<rect x="145.74" y="734.8" width="2.76" height="32.3" fill="#E4FDE4"/>
<rect x="148.2" y="734.8" width="2.76" height="32.3" fill="#F3FEF3"/>
<rect x="150.66" y="734.8" width="2.76" height="32.3" fill="#D0FCD0"/>
<rect x="153.12" y="734.8" width="2.76" height="32.3" fill="#E4FDE4"/>
<rect x="155.57" y="734.8" width="2.76" height="32.3" fill="#D0FCD0"/>
<rect x="158.03" y="734.8" width="2.76" height="32.3" fill="#D0FCD0"/>
<rect x="160.49" y="734.8" width="2.76" height="32.3" fill="#E4FDE4"/>
<rect x="162.95" y="734.8" width="2.76" height="32.3" fill="#E4FDE4"/>
<rect x="165.41" y="734.8" width="2.76" height="32.3" fill="#E4FDE4"/>
<rect x="167.87" y="734.8" width="2.76" height="32.3" fill="#E4FDE4"/>
<rect x="170.32" y="734.8" width="2.76" height="32.3" fill="#D0FCD0"/>
<rect x="172.78" y="734.8" width="2.76" height="32.3" fill="#BFFBBF"/>
<rect x="175.24" y="734.8" width="2.76" height="32.3" fill="#D0FCD0"/>
<rect x="177.7" y="734.8" width="2.76" height="32.3" fill="#E4FDE4"/>
<rect x="180.16" y="734.8" width="2.76" height="32.3" fill="#E4FDE4"/>
<rect x="182.62" y="734.8" width="2.76" height="32.3" fill="#D0FCD0"/>
<rect x="185.08" y="734.8" width="2.76" height="32.3" fill="#E4FDE4"/>
<rect x="187.53" y="734.8" width="2.76" height="32.3" fill="#BFFBBF"/>
<rect x="189.99" y="734.8" width="2.76" height="32.3" fill="#BFFBBF"/>
<rect x="192.45" y="734.8" width="2.76" height="32.3" fill="#D0FCD0"/>
<rect x="194.91" y="734.8" width="2.76" height="32.3" fill="#BFFBBF"/>
<rect x="197.37" y="734.8" width="2.76" height="32.3" fill="#BFFBBF"/>
<rect x="199.83" y="734.8" width="2.76" height="32.3" fill="#D0FCD0"/>
<rect x="202.28" y="734.8" width="2.76" height="32.3" fill="#FFEBEB"/>
<rect x="204.74" y="734.8" width="2.76" height="32.3" fill="#FFFFFF"/>
<rect x="207.2" y="734.8" width="2.76" height="32.3" fill="#F3FEF3"/>
<rect x="209.66" y="734.8" width="2.76" height="32.3" fill="#E4FDE4"/>
<rect x="212.12" y="734.8" width="2.76" height="32.3" fill="#D0FCD0"/>
<rect x="214.58" y="734.8" width="2.76" height="32.3" fill="#E4FDE4"/>
<rect x="217.04" y="734.8" width="2.76" height="32.3" fill="#D0FCD0"/>
<rect x="219.49" y="734.8" width="2.76" height="32.3" fill="#BFFBBF"/>
<rect x="221.95" y="734.8" width="2.76" height="32.3" fill="#BFFBBF"/>
<rect x="224.41" y="734.8" width="2.76" height="32.3" fill="#E4FDE4"/>
<rect x="226.87" y="734.8" width="2.76" height="32.3" fill="#BFFBBF"/>
<rect x="229.33" y="734.8" width="2.76" height="32.3" fill="#BFFBBF"/>
<rect x="231.79" y="734.8" width="2.76" height="32.3" fill="#D0FCD0"/>
<rect x="234.25" y="734.8" width="2.76" height="32.3" fill="#D0FCD0"/>
<rect x="236.7" y="734.8" width="2.76" height="32.3" fill="#FFEBEB"/>
<rect x="239.16" y="734.8" width="2.76" height="32.3" fill="#E4FDE4"/>
<rect x="241.62" y="734.8" width="2.76" height="32.3" fill="#BFFBBF"/>
<rect x="244.08" y="734.8" width="2.76" height="32.3" fill="#D0FCD0"/>
<rect x="246.54" y="734.8" width="2.76" height="32.3" fill="#E4FDE4"/>
<rect x="249" y="734.8" width="2.76" height="32.3" fill="#BFFBBF"/>
<rect x="251.45" y="734.8" width="2.76" height="32.3" fill="#BFFBBF"/>
<rect x="253.91" y="734.8" width="2.76" height="32.3" fill="#E4FDE4"/>
<rect x="256.37" y="734.8" width="2.76" height="32.3" fill="#D0FCD0"/>
<rect x="258.83" y="734.8" width="2.76" height="32.3" fill="#E4FDE4"/>
<rect x="261.29" y="734.8" width="2.76" height="32.3" fill="#F3FEF3"/>
<rect x="263.75" y="734.8" width="2.76" height="32.3" fill="#BFFBBF"/>
<rect x="266.21" y="734.8" width="2.76" height="32.3" fill="#ACF9AC"/>
<rect x="268.66" y="734.8" width="2.76" height="32.3" fill="#F3FEF3"/>
<rect x="271.12" y="734.8" width="2.76" height="32.3" fill="#FFFFFF"/>
<rect x="273.58" y="734.8" width="2.76" height="32.3" fill="#BFFBBF"/>
<rect x="276.04" y="734.8" width="2.76" height="32.3" fill="#D0FCD0"/>
<rect x="278.5" y="734.8" width="2.76" height="32.3" fill="#FFEBEB"/>
<rect x="280.96" y="734.8" width="2.76" height="32.3" fill="#E4FDE4"/>
<rect x="283.42" y="734.8" width="2.76" height="32.3" fill="#F3FEF3"/>
<rect x="285.87" y="734.8" width="2.76" height="32.3" fill="#FFFFFF"/>
<rect x="288.33" y="734.8" width="2.76" height="32.3" fill="#E4FDE4"/>
<rect x="290.79" y="734.8" width="2.76" height="32.3" fill="#E4FDE4"/>
<rect x="293.25" y="734.8" width="2.76" height="32.3" fill="#FFFFFF"/>
<rect x="295.71" y="734.8" width="2.76" height="32.3" fill="#E4FDE4"/>
<rect x="298.17" y="734.8" width="2.76" height="32.3" fill="#E4FDE4"/>
<rect x="300.62" y="734.8" width="2.76" height="32.3" fill="#E4FDE4"/>
<rect x="303.08" y="734.8" width="2.76" height="32.3" fill="#FFEBEB"/>
<rect x="305.54" y="734.8" width="2.76" height="32.3" fill="#E4FDE4"/>
<rect x="308" y="734.8" width="2.76" height="32.3" fill="#FFFFFF"/>
<rect x="310.46" y="734.8" width="2.76" height="32.3" fill="#E4FDE4"/>
<rect x="312.92" y="734.8" width="2.76" height="32.3" fill="#E4FDE4"/>
<rect x="315.38" y="734.8" width="2.76" height="32.3" fill="#E4FDE4"/>
<rect x="317.83" y="734.8" width="2.76" height="32.3" fill="#E4FDE4"/>
<rect x="320.29" y="734.8" width="2.76" height="32.3" fill="#E4FDE4"/>
<rect x="322.75" y="734.8" width="2.76" height="32.3" fill="#FFEBEB"/>
<rect x="325.21" y="734.8" width="2.76" height="32.3" fill="#BFFBBF"/>
<rect x="327.67" y="734.8" width="2.76" height="32.3" fill="#E4FDE4"/>
<rect x="330.13" y="734.8" width="2.76" height="32.3" fill="#E4FDE4"/>
<rect x="332.58" y="734.8" width="2.76" height="32.3" fill="#FFFFFF"/>
<rect x="335.04" y="734.8" width="2.76" height="32.3" fill="#E4FDE4"/>
<rect x="337.5" y="734.8" width="2.76" height="32.3" fill="#E4FDE4"/>
<rect x="339.96" y="734.8" width="2.76" height="32.3" fill="#F3FEF3"/>
<rect x="342.42" y="734.8" width="2.76" height="32.3" fill="#F3FEF3"/>
<rect x="344.88" y="734.8" width="2.76" height="32.3" fill="#E4FDE4"/>
<rect x="347.34" y="734.8" width="2.76" height="32.3" fill="#FFFFFF"/>
<rect x="349.79" y="734.8" width="2.76" height="32.3" fill="#FFEBEB"/>
<rect x="352.25" y="734.8" width="2.76" height="32.3" fill="#F3FEF3"/>
<rect x="354.71" y="734.8" width="2.76" height="32.3" fill="#E4FDE4"/>
<rect x="357.17" y="734.8" width="2.76" height="32.3" fill="#FFFFFF"/>
<rect x="359.63" y="734.8" width="2.76" height="32.3" fill="#E4FDE4"/>
<rect x="362.09" y="734.8" width="2.76" height="32.3" fill="#E4FDE4"/>
<rect x="364.55" y="734.8" width="2.76" height="32.3" fill="#FFFFFF"/>
<rect x="367" y="734.8" width="2.76" height="32.3" fill="#F3FEF3"/>
<rect x="369.46" y="734.8" width="2.76" height="32.3" fill="#E4FDE4"/>
<rect x="371.92" y="734.8" width="2.76" height="32.3" fill="#F3FEF3"/>
<rect x="374.38" y="734.8" width="2.76" height="32.3" fill="#DBFDDB"/>
<rect x="376.84" y="734.8" width="2.76" height="32.3" fill="#AAF9AA"/>
<rect x="379.3" y="734.8" width="2.76" height="32.3" fill="#FFEBEB"/>
<rect x="381.75" y="734.8" width="2.76" height="32.3" fill="#FFEBEB"/>
<rect x="384.21" y="734.8" width="2.76" height="32.3" fill="#EFFEEF"/>
<rect x="386.67" y="734.8" width="2.76" height="32.3" fill="#DBFDDB"/>
<rect x="389.13" y="734.8" width="2.76" height="32.3" fill="#FFFFFF"/>
<rect x="391.59" y="734.8" width="2.76" height="32.3" fill="#FFFFFF"/>
<rect x="394.05" y="734.8" width="2.76" height="32.3" fill="#FFEBEB"/>
<rect x="396.51" y="734.8" width="2.76" height="32.3" fill="#EFFEEF"/>
<rect x="398.96" y="734.8" width="2.76" height="32.3" fill="#DBFDDB"/>
<rect x="401.42" y="734.8" width="2.76" height="32.3" fill="#FFFFFF"/>
<rect x="403.88" y="734.8" width="2.76" height="32.3" fill="#EFFEEF"/>
<rect x="406.34" y="734.8" width="2.76" height="32.3" fill="#DBFDDB"/>
<rect x="408.8" y="734.8" width="2.76" height="32.3" fill="#DBFDDB"/>
<rect x="411.26" y="734.8" width="2.76" height="32.3" fill="#FFFFFF"/>
<rect x="413.72" y="734.8" width="2.76" height="32.3" fill="#FFBEBE"/>
<rect x="416.17" y="734.8" width="2.76" height="32.3" fill="#FFFFFF"/>
<rect x="418.63" y="734.8" width="2.76" height="32.3" fill="#FFD4D4"/>
<rect x="421.09" y="734.8" width="2.76" height="32.3" fill="#FFFFFF"/>
<rect x="423.55" y="734.8" width="2.76" height="32.3" fill="#C1FBC1"/>
<rect x="426.01" y="734.8" width="2.76" height="32.3" fill="#C1FBC1"/>
<rect x="428.47" y="734.8" width="2.76" height="32.3" fill="#DBFDDB"/>
<rect x="430.92" y="734.8" width="2.76" height="32.3" fill="#FFFFFF"/>
<rect x="433.38" y="734.8" width="2.76" height="32.3" fill="#FFFFFF"/>
<rect x="435.84" y="734.8" width="2.76" height="32.3" fill="#FFEBEB"/>
<rect x="438.3" y="734.8" width="2.76" height="32.3" fill="#FFEBEB"/>
<rect x="440.76" y="734.8" width="2.76" height="32.3" fill="#FFFFFF"/>
<rect x="443.22" y="734.8" width="2.76" height="32.3" fill="#DBFDDB"/>
<rect x="445.68" y="734.8" width="2.76" height="32.3" fill="#FFFFFF"/>
<rect x="448.13" y="734.8" width="2.76" height="32.3" fill="#FFEBEB"/>
<rect x="450.59" y="734.8" width="2.76" height="32.3" fill="#FFEBEB"/>
<rect x="453.05" y="734.8" width="2.76" height="32.3" fill="#DBFDDB"/>
<rect x="455.51" y="734.8" width="2.76" height="32.3" fill="#FF8383"/>
<rect x="457.97" y="734.8" width="2.76" height="32.3" fill="#FFFFFF"/>
<rect x="460.43" y="734.8" width="2.76" height="32.3" fill="#FFEBEB"/>
<rect x="462.88" y="734.8" width="2.76" height="32.3" fill="#EFFEEF"/>
<rect x="465.34" y="734.8" width="2.76" height="32.3" fill="#FFFFFF"/>
<rect x="467.8" y="734.8" width="2.76" height="32.3" fill="#DBFDDB"/>
<rect x="470.26" y="734.8" width="2.76" height="32.3" fill="#FFFFFF"/>
<rect x="472.72" y="734.8" width="2.76" height="32.3" fill="#FFD4D4"/>
<rect x="475.18" y="734.8" width="2.76" height="32.3" fill="#FFEBEB"/>
<rect x="477.64" y="734.8" width="2.76" height="32.3" fill="#EFFEEF"/>
<rect x="480.09" y="734.8" width="2.76" height="32.3" fill="#DBFDDB"/>
<rect x="482.55" y="734.8" width="2.76" height="32.3" fill="#EFFEEF"/>
<rect x="485.01" y="734.8" width="2.76" height="32.3" fill="#DBFDDB"/>
<rect x="487.47" y="734.8" width="2.76" height="32.3" fill="#FFD4D4"/>
<rect x="489.93" y="734.8" width="2.76" height="32.3" fill="#FFD4D4"/>
<rect x="492.39" y="734.8" width="2.76" height="32.3" fill="#EFFEEF"/>
<rect x="494.85" y="734.8" width="2.76" height="32.3" fill="#EFFEEF"/>
<rect x="497.3" y="734.8" width="2.76" height="32.3" fill="#DBFDDB"/>
<rect x="499.76" y="734.8" width="2.76" height="32.3" fill="#FFBEBE"/>
<rect x="502.22" y="734.8" width="2.76" height="32.3" fill="#FFFFFF"/>
<rect x="504.68" y="734.8" width="2.76" height="32.3" fill="#FFD4D4"/>
<rect x="507.14" y="734.8" width="2.76" height="32.3" fill="#FFD4D4"/>
<rect x="509.6" y="734.8" width="2.76" height="32.3" fill="#DBFDDB"/>
<rect x="512.05" y="734.8" width="2.76" height="32.3" fill="#DBFDDB"/>
<rect x="514.51" y="734.8" width="2.76" height="32.3" fill="#FFFFFF"/>
<rect x="516.97" y="734.8" width="2.76" height="32.3" fill="#FFEBEB"/>
<rect x="519.43" y="734.8" width="2.76" height="32.3" fill="#EFFEEF"/>
<rect x="521.89" y="734.8" width="2.76" height="32.3" fill="#DBFDDB"/>
<rect x="524.35" y="734.8" width="2.76" height="32.3" fill="#EFFEEF"/>
<rect x="526.81" y="734.8" width="2.76" height="32.3" fill="#FFEBEB"/>
<rect x="529.26" y="734.8" width="2.76" height="32.3" fill="#FFFFFF"/>
<rect x="531.72" y="734.8" width="2.76" height="32.3" fill="#FFEBEB"/>
<rect x="534.18" y="734.8" width="2.76" height="32.3" fill="#FFBEBE"/>
<rect x="536.64" y="734.8" width="2.76" height="32.3" fill="#FFD4D4"/>
<rect x="539.1" y="734.8" width="2.76" height="32.3" fill="#EFFEEF"/>
<rect x="541.56" y="734.8" width="2.76" height="32.3" fill="#AAF9AA"/>
<rect x="544.02" y="734.8" width="2.76" height="32.3" fill="#FFFFFF"/>
<rect x="546.47" y="734.8" width="2.76" height="32.3" fill="#EFFEEF"/>
<rect x="548.93" y="734.8" width="2.76" height="32.3" fill="#EFFEEF"/>
<rect x="551.39" y="734.8" width="2.76" height="32.3" fill="#FFFFFF"/>
<rect x="553.85" y="734.8" width="2.76" height="32.3" fill="#FFEBEB"/>
<rect x="556.31" y="734.8" width="2.76" height="32.3" fill="#FFD4D4"/>
<rect x="558.77" y="734.8" width="2.76" height="32.3" fill="#FF3B3B"/>
<rect x="561.22" y="734.8" width="2.76" height="32.3" fill="#FFFFFF"/>
<rect x="563.68" y="734.8" width="2.76" height="32.3" fill="#FFA3A3"/>
<rect x="566.14" y="734.8" width="2.76" height="32.3" fill="#FFEBEB"/>
<rect x="568.6" y="734.8" width="2.76" height="32.3" fill="#FFD4D4"/>
<rect x="571.06" y="734.8" width="2.76" height="32.3" fill="#FFA3A3"/>
<rect x="573.52" y="734.8" width="2.76" height="32.3" fill="#FFBEBE"/>
<rect x="575.98" y="734.8" width="2.76" height="32.3" fill="#FFFFFF"/>
<rect x="578.43" y="734.8" width="2.76" height="32.3" fill="#FFBEBE"/>
<rect x="580.89" y="734.8" width="2.76" height="32.3" fill="#FFEBEB"/>
<rect x="583.35" y="734.8" width="2.76" height="32.3" fill="#FFBEBE"/>
<rect x="585.81" y="734.8" width="2.76" height="32.3" fill="#FFFFFF"/>
<rect x="588.27" y="734.8" width="2.76" height="32.3" fill="#FFBEBE"/>
<rect x="590.73" y="734.8" width="2.76" height="32.3" fill="#FFFFFF"/>
<rect x="593.18" y="734.8" width="2.76" height="32.3" fill="#FFBEBE"/>
<rect x="595.64" y="734.8" width="2.76" height="32.3" fill="#FFBEBE"/>
<rect x="598.1" y="734.8" width="2.76" height="32.3" fill="#FFEBEB"/>
<rect x="600.56" y="734.8" width="2.76" height="32.3" fill="#FFEBEB"/>
<rect x="603.02" y="734.8" width="2.76" height="32.3" fill="#FFEBEB"/>
<rect x="605.48" y="734.8" width="2.76" height="32.3" fill="#FFBABA"/>
<rect x="607.94" y="734.8" width="2.76" height="32.3" fill="#FFBABA"/>
<rect x="610.39" y="734.8" width="2.76" height="32.3" fill="#FFA3A3"/>
<rect x="612.85" y="734.8" width="2.76" height="32.3" fill="#FFA3A3"/>
<rect x="615.31" y="734.8" width="2.76" height="32.3" fill="#FFA3A3"/>
<rect x="617.77" y="734.8" width="2.76" height="32.3" fill="#FF8989"/>
<rect x="620.23" y="734.8" width="2.76" height="32.3" fill="#FF6969"/>
<rect x="622.69" y="734.8" width="2.76" height="32.3" fill="#FF8989"/>
<rect x="625.15" y="734.8" width="2.76" height="32.3" fill="#FF8989"/>
<rect x="627.6" y="734.8" width="2.76" height="32.3" fill="#FF6969"/>
<rect x="630.06" y="734.8" width="2.76" height="32.3" fill="#FF6969"/>
<rect x="632.52" y="734.8" width="2.76" height="32.3" fill="#FF4141"/>
<rect x="634.98" y="734.8" width="2.76" height="32.3" fill="#FF6969"/>
<rect x="637.44" y="734.8" width="2.76" height="32.3" fill="#FF6969"/>
<rect x="639.9" y="734.8" width="2.76" height="32.3" fill="#FF8989"/>
<rect x="642.35" y="734.8" width="2.76" height="32.3" fill="#FFA3A3"/>
<rect x="644.81" y="734.8" width="2.76" height="32.3" fill="#FF8989"/>
<rect x="647.27" y="734.8" width="2.76" height="32.3" fill="#FF6969"/>
<rect x="649.73" y="734.8" width="2.76" height="32.3" fill="#FFEBEB"/>
<rect x="652.19" y="734.8" width="2.76" height="32.3" fill="#FF2121"/>
<rect x="654.65" y="734.8" width="2.76" height="32.3" fill="#FF2121"/>
<rect x="657.11" y="734.8" width="2.76" height="32.3" fill="#FF0000"/>
<rect x="659.56" y="734.8" width="2.76" height="32.3" fill="#FF8989"/>
<rect x="662.02" y="734.8" width="2.76" height="32.3" fill="#FF6969"/>
<rect x="664.48" y="734.8" width="2.76" height="32.3" fill="#FF4141"/>
<rect x="666.94" y="734.8" width="2.76" height="32.3" fill="#FF4141"/>
<rect x="669.4" y="734.8" width="2.76" height="32.3" fill="#FF8989"/>
<rect x="671.86" y="734.8" width="2.76" height="32.3" fill="#FF6969"/>
<rect x="674.32" y="734.8" width="2.76" height="32.3" fill="#FF4141"/>
<rect x="676.77" y="734.8" width="2.76" height="32.3" fill="#FF0000"/>
<rect x="679.23" y="734.8" width="2.76" height="32.3" fill="#FF8989"/>
<rect x="681.69" y="734.8" width="2.76" height="32.3" fill="#FF8989"/>
<rect x="684.15" y="734.8" width="2.76" height="32.3" fill="#FF6969"/>
<rect x="686.61" y="734.8" width="2.76" height="32.3" fill="#FFEBEB"/>
<rect x="689.07" y="734.8" width="2.76" height="32.3" fill="#FF2121"/>
<rect x="691.52" y="734.8" width="2.76" height="32.3" fill="#FF0000"/>
<rect x="693.98" y="734.8" width="2.76" height="32.3" fill="#FF0000"/>
<rect x="696.44" y="734.8" width="2.76" height="32.3" fill="#FF2121"/>
<rect x="47.4" y="767.1" width="2.76" height="32.4" fill="#90F890"/>
<rect x="49.86" y="767.1" width="2.76" height="32.4" fill="#90F890"/>
<rect x="52.32" y="767.1" width="2.76" height="32.4" fill="#90F890"/>
<rect x="54.78" y="767.1" width="2.76" height="32.4" fill="#90F890"/>
<rect x="57.23" y="767.1" width="2.76" height="32.4" fill="#EFFEEF"/>
<rect x="59.69" y="767.1" width="2.76" height="32.4" fill="#DBFDDB"/>
<rect x="62.15" y="767.1" width="2.76" height="32.4" fill="#AAF9AA"/>
<rect x="64.61" y="767.1" width="2.76" height="32.4" fill="#C1FBC1"/>
<rect x="67.07" y="767.1" width="2.76" height="32.4" fill="#AAF9AA"/>
<rect x="69.53" y="767.1" width="2.76" height="32.4" fill="#DBFDDB"/>
<rect x="71.98" y="767.1" width="2.76" height="32.4" fill="#FFFFFF"/>
<rect x="74.44" y="767.1" width="2.76" height="32.4" fill="#AAF9AA"/>
<rect x="76.9" y="767.1" width="2.76" height="32.4" fill="#AAF9AA"/>
<rect x="79.36" y="767.1" width="2.76" height="32.4" fill="#90F890"/>
<rect x="81.82" y="767.1" width="2.76" height="32.4" fill="#DBFDDB"/>
<rect x="84.28" y="767.1" width="2.76" height="32.4" fill="#DBFDDB"/>
<rect x="86.74" y="767.1" width="2.76" height="32.4" fill="#FFD4D4"/>
<rect x="89.19" y="767.1" width="2.76" height="32.4" fill="#DBFDDB"/>
<rect x="91.65" y="767.1" width="2.76" height="32.4" fill="#C1FBC1"/>
<rect x="94.11" y="767.1" width="2.76" height="32.4" fill="#C1FBC1"/>
<rect x="96.57" y="767.1" width="2.76" height="32.4" fill="#DBFDDB"/>
<rect x="99.03" y="767.1" width="2.76" height="32.4" fill="#FF6C6C"/>
<rect x="101.49" y="767.1" width="2.76" height="32.4" fill="#EFFEEF"/>
<rect x="103.95" y="767.1" width="2.76" height="32.4" fill="#DBFDDB"/>
<rect x="106.4" y="767.1" width="2.76" height="32.4" fill="#FFFFFF"/>
<rect x="108.86" y="767.1" width="2.76" height="32.4" fill="#FFFFFF"/>
<rect x="111.32" y="767.1" width="2.76" height="32.4" fill="#EFFEEF"/>
<rect x="113.78" y="767.1" width="2.76" height="32.4" fill="#DBFDDB"/>
<rect x="116.24" y="767.1" width="2.76" height="32.4" fill="#DBFDDB"/>
<rect x="118.7" y="767.1" width="2.76" height="32.4" fill="#FFA3A3"/>
<rect x="121.15" y="767.1" width="2.76" height="32.4" fill="#FFA3A3"/>
<rect x="123.61" y="767.1" width="2.76" height="32.4" fill="#76F676"/>
<rect x="126.07" y="767.1" width="2.76" height="32.4" fill="#FF6C6C"/>
<rect x="128.53" y="767.1" width="2.76" height="32.4" fill="#EFFEEF"/>
<rect x="130.99" y="767.1" width="2.76" height="32.4" fill="#DBFDDB"/>
<rect x="133.45" y="767.1" width="2.76" height="32.4" fill="#EFFEEF"/>
<rect x="135.91" y="767.1" width="2.76" height="32.4" fill="#DBFDDB"/>
<rect x="138.36" y="767.1" width="2.76" height="32.4" fill="#DBFDDB"/>
<rect x="140.82" y="767.1" width="2.76" height="32.4" fill="#EFFEEF"/>
<rect x="143.28" y="767.1" width="2.76" height="32.4" fill="#DBFDDB"/>
<rect x="145.74" y="767.1" width="2.76" height="32.4" fill="#DBFDDB"/>
<rect x="148.2" y="767.1" width="2.76" height="32.4" fill="#FFEBEB"/>
<rect x="150.66" y="767.1" width="2.76" height="32.4" fill="#C1FBC1"/>
<rect x="153.12" y="767.1" width="2.76" height="32.4" fill="#DBFDDB"/>
<rect x="155.57" y="767.1" width="2.76" height="32.4" fill="#FFFFFF"/>
<rect x="158.03" y="767.1" width="2.76" height="32.4" fill="#FFEBEB"/>
<rect x="160.49" y="767.1" width="2.76" height="32.4" fill="#DBFDDB"/>
<rect x="162.95" y="767.1" width="2.76" height="32.4" fill="#FF6C6C"/>
<rect x="165.41" y="767.1" width="2.76" height="32.4" fill="#FFEBEB"/>
<rect x="167.87" y="767.1" width="2.76" height="32.4" fill="#FFBEBE"/>
<rect x="170.32" y="767.1" width="2.76" height="32.4" fill="#DBFDDB"/>
<rect x="172.78" y="767.1" width="2.76" height="32.4" fill="#FFA3A3"/>
<rect x="175.24" y="767.1" width="2.76" height="32.4" fill="#FFFFFF"/>
<rect x="177.7" y="767.1" width="2.76" height="32.4" fill="#C1FBC1"/>
<rect x="180.16" y="767.1" width="2.76" height="32.4" fill="#DBFDDB"/>
<rect x="182.62" y="767.1" width="2.76" height="32.4" fill="#EFFEEF"/>
<rect x="185.08" y="767.1" width="2.76" height="32.4" fill="#DBFDDB"/>
<rect x="187.53" y="767.1" width="2.76" height="32.4" fill="#FFBEBE"/>
<rect x="189.99" y="767.1" width="2.76" height="32.4" fill="#FF5C5C"/>
<rect x="192.45" y="767.1" width="2.76" height="32.4" fill="#FFFFFF"/>
<rect x="194.91" y="767.1" width="2.76" height="32.4" fill="#FFEBEB"/>
<rect x="197.37" y="767.1" width="2.76" height="32.4" fill="#FFFFFF"/>
<rect x="199.83" y="767.1" width="2.76" height="32.4" fill="#AAF9AA"/>
<rect x="202.28" y="767.1" width="2.76" height="32.4" fill="#90F890"/>
<rect x="204.74" y="767.1" width="2.76" height="32.4" fill="#AAF9AA"/>
<rect x="207.2" y="767.1" width="2.76" height="32.4" fill="#FFFFFF"/>
<rect x="209.66" y="767.1" width="2.76" height="32.4" fill="#FFEBEB"/>
<rect x="212.12" y="767.1" width="2.76" height="32.4" fill="#EFFEEF"/>
<rect x="214.58" y="767.1" width="2.76" height="32.4" fill="#90F890"/>
<rect x="217.04" y="767.1" width="2.76" height="32.4" fill="#FFFFFF"/>
<rect x="219.49" y="767.1" width="2.76" height="32.4" fill="#EFFEEF"/>
<rect x="221.95" y="767.1" width="2.76" height="32.4" fill="#FFEBEB"/>
<rect x="224.41" y="767.1" width="2.76" height="32.4" fill="#EFFEEF"/>
<rect x="226.87" y="767.1" width="2.76" height="32.4" fill="#DBFDDB"/>
<rect x="229.33" y="767.1" width="2.76" height="32.4" fill="#C1FBC1"/>
<rect x="231.79" y="767.1" width="2.76" height="32.4" fill="#FFA3A3"/>
<rect x="234.25" y="767.1" width="2.76" height="32.4" fill="#FFA3A3"/>
<rect x="236.7" y="767.1" width="2.76" height="32.4" fill="#DBFDDB"/>
<rect x="239.16" y="767.1" width="2.76" height="32.4" fill="#FFFFFF"/>
<rect x="241.62" y="767.1" width="2.76" height="32.4" fill="#FFBEBE"/>
<rect x="244.08" y="767.1" width="2.76" height="32.4" fill="#FFBEBE"/>
<rect x="246.54" y="767.1" width="2.76" height="32.4" fill="#DBFDDB"/>
<rect x="249" y="767.1" width="2.76" height="32.4" fill="#FF6C6C"/>
<rect x="251.45" y="767.1" width="2.76" height="32.4" fill="#FFFFFF"/>
<rect x="253.91" y="767.1" width="2.76" height="32.4" fill="#EFFEEF"/>
<rect x="256.37" y="767.1" width="2.76" height="32.4" fill="#DBFDDB"/>
<rect x="258.83" y="767.1" width="2.76" height="32.4" fill="#FFFFFF"/>
<rect x="261.29" y="767.1" width="2.76" height="32.4" fill="#FFEBEB"/>
<rect x="263.75" y="767.1" width="2.76" height="32.4" fill="#EFFEEF"/>
<rect x="266.21" y="767.1" width="2.76" height="32.4" fill="#EFFEEF"/>
<rect x="268.66" y="767.1" width="2.76" height="32.4" fill="#DBFDDB"/>
<rect x="271.12" y="767.1" width="2.76" height="32.4" fill="#FF6C6C"/>
<rect x="273.58" y="767.1" width="2.76" height="32.4" fill="#FFFFFF"/>
<rect x="276.04" y="767.1" width="2.76" height="32.4" fill="#FFFFFF"/>
<rect x="278.5" y="767.1" width="2.76" height="32.4" fill="#76F676"/>
<rect x="280.96" y="767.1" width="2.76" height="32.4" fill="#FFA3A3"/>
<rect x="283.42" y="767.1" width="2.76" height="32.4" fill="#FF6C6C"/>
<rect x="285.87" y="767.1" width="2.76" height="32.4" fill="#EFFEEF"/>
<rect x="288.33" y="767.1" width="2.76" height="32.4" fill="#FFFFFF"/>
<rect x="290.79" y="767.1" width="2.76" height="32.4" fill="#DBFDDB"/>
<rect x="293.25" y="767.1" width="2.76" height="32.4" fill="#C1FBC1"/>
<rect x="295.71" y="767.1" width="2.76" height="32.4" fill="#C1FBC1"/>
<rect x="298.17" y="767.1" width="2.76" height="32.4" fill="#DBFDDB"/>
<rect x="300.62" y="767.1" width="2.76" height="32.4" fill="#FFFFFF"/>
<rect x="303.08" y="767.1" width="2.76" height="32.4" fill="#C1FBC1"/>
<rect x="305.54" y="767.1" width="2.76" height="32.4" fill="#DBFDDB"/>
<rect x="308" y="767.1" width="2.76" height="32.4" fill="#C1FBC1"/>
<rect x="310.46" y="767.1" width="2.76" height="32.4" fill="#FFFFFF"/>
<rect x="312.92" y="767.1" width="2.76" height="32.4" fill="#FFBEBE"/>
<rect x="315.38" y="767.1" width="2.76" height="32.4" fill="#FF8383"/>
<rect x="317.83" y="767.1" width="2.76" height="32.4" fill="#FFFFFF"/>
<rect x="320.29" y="767.1" width="2.76" height="32.4" fill="#DBFDDB"/>
<rect x="322.75" y="767.1" width="2.76" height="32.4" fill="#DBFDDB"/>
<rect x="325.21" y="767.1" width="2.76" height="32.4" fill="#FFFFFF"/>
<rect x="327.67" y="767.1" width="2.76" height="32.4" fill="#FFA3A3"/>
<rect x="330.13" y="767.1" width="2.76" height="32.4" fill="#FFFFFF"/>
<rect x="332.58" y="767.1" width="2.76" height="32.4" fill="#FFBEBE"/>
<rect x="335.04" y="767.1" width="2.76" height="32.4" fill="#DBFDDB"/>
<rect x="337.5" y="767.1" width="2.76" height="32.4" fill="#DBFDDB"/>
<rect x="339.96" y="767.1" width="2.76" height="32.4" fill="#FF5C5C"/>
<rect x="342.42" y="767.1" width="2.76" height="32.4" fill="#DBFDDB"/>
<rect x="344.88" y="767.1" width="2.76" height="32.4" fill="#FFEBEB"/>
<rect x="347.34" y="767.1" width="2.76" height="32.4" fill="#FFEBEB"/>
<rect x="349.79" y="767.1" width="2.76" height="32.4" fill="#DBFDDB"/>
<rect x="352.25" y="767.1" width="2.76" height="32.4" fill="#DBFDDB"/>
<rect x="354.71" y="767.1" width="2.76" height="32.4" fill="#FFA3A3"/>
<rect x="357.17" y="767.1" width="2.76" height="32.4" fill="#DBFDDB"/>
<rect x="359.63" y="767.1" width="2.76" height="32.4" fill="#DBFDDB"/>
<rect x="362.09" y="767.1" width="2.76" height="32.4" fill="#EFFEEF"/>
<rect x="364.55" y="767.1" width="2.76" height="32.4" fill="#DBFDDB"/>
<rect x="367" y="767.1" width="2.76" height="32.4" fill="#EFFEEF"/>
<rect x="369.46" y="767.1" width="2.76" height="32.4" fill="#EFFEEF"/>
<rect x="371.92" y="767.1" width="2.76" height="32.4" fill="#FFFFFF"/>
<rect x="374.38" y="767.1" width="2.76" height="32.4" fill="#FFFFFF"/>
<rect x="376.84" y="767.1" width="2.76" height="32.4" fill="#FF1A1A"/>
<rect x="379.3" y="767.1" width="2.76" height="32.4" fill="#FFFFFF"/>
<rect x="381.75" y="767.1" width="2.76" height="32.4" fill="#90F890"/>
<rect x="384.21" y="767.1" width="2.76" height="32.4" fill="#FFFFFF"/>
<rect x="386.67" y="767.1" width="2.76" height="32.4" fill="#FF1A1A"/>
<rect x="389.13" y="767.1" width="2.76" height="32.4" fill="#FFFFFF"/>
<rect x="391.59" y="767.1" width="2.76" height="32.4" fill="#DBFDDB"/>
<rect x="394.05" y="767.1" width="2.76" height="32.4" fill="#C1FBC1"/>
<rect x="396.51" y="767.1" width="2.76" height="32.4" fill="#DBFDDB"/>
<rect x="398.96" y="767.1" width="2.76" height="32.4" fill="#FFD4D4"/>
<rect x="401.42" y="767.1" width="2.76" height="32.4" fill="#FFEBEB"/>
<rect x="403.88" y="767.1" width="2.76" height="32.4" fill="#FFEBEB"/>
<rect x="406.34" y="767.1" width="2.76" height="32.4" fill="#EFFEEF"/>
<rect x="408.8" y="767.1" width="2.76" height="32.4" fill="#FFD4D4"/>
<rect x="411.26" y="767.1" width="2.76" height="32.4" fill="#DBFDDB"/>
<rect x="413.72" y="767.1" width="2.76" height="32.4" fill="#AAF9AA"/>
<rect x="416.17" y="767.1" width="2.76" height="32.4" fill="#90F890"/>
<rect x="418.63" y="767.1" width="2.76" height="32.4" fill="#90F890"/>
<rect x="421.09" y="767.1" width="2.76" height="32.4" fill="#FFFFFF"/>
<rect x="423.55" y="767.1" width="2.76" height="32.4" fill="#FFD4D4"/>
<rect x="426.01" y="767.1" width="2.76" height="32.4" fill="#FFD4D4"/>
<rect x="428.47" y="767.1" width="2.76" height="32.4" fill="#FF5C5C"/>
<rect x="430.92" y="767.1" width="2.76" height="32.4" fill="#FFFFFF"/>
<rect x="433.38" y="767.1" width="2.76" height="32.4" fill="#FFFFFF"/>
<rect x="435.84" y="767.1" width="2.76" height="32.4" fill="#EFFEEF"/>
<rect x="438.3" y="767.1" width="2.76" height="32.4" fill="#FFFFFF"/>
<rect x="440.76" y="767.1" width="2.76" height="32.4" fill="#FFFFFF"/>
<rect x="443.22" y="767.1" width="2.76" height="32.4" fill="#FFA3A3"/>
<rect x="445.68" y="767.1" width="2.76" height="32.4" fill="#FFFFFF"/>
<rect x="448.13" y="767.1" width="2.76" height="32.4" fill="#AAF9AA"/>
<rect x="450.59" y="767.1" width="2.76" height="32.4" fill="#AAF9AA"/>
<rect x="453.05" y="767.1" width="2.76" height="32.4" fill="#FFD4D4"/>
<rect x="455.51" y="767.1" width="2.76" height="32.4" fill="#90F890"/>
<rect x="457.97" y="767.1" width="2.76" height="32.4" fill="#FFEBEB"/>
<rect x="460.43" y="767.1" width="2.76" height="32.4" fill="#EFFEEF"/>
<rect x="462.88" y="767.1" width="2.76" height="32.4" fill="#FF3B3B"/>
<rect x="465.34" y="767.1" width="2.76" height="32.4" fill="#FFFFFF"/>
<rect x="467.8" y="767.1" width="2.76" height="32.4" fill="#FFEBEB"/>
<rect x="470.26" y="767.1" width="2.76" height="32.4" fill="#EFFEEF"/>
<rect x="472.72" y="767.1" width="2.76" height="32.4" fill="#DBFDDB"/>
<rect x="475.18" y="767.1" width="2.76" height="32.4" fill="#AAF9AA"/>
<rect x="477.64" y="767.1" width="2.76" height="32.4" fill="#FFFFFF"/>
<rect x="480.09" y="767.1" width="2.76" height="32.4" fill="#FFBEBE"/>
<rect x="482.55" y="767.1" width="2.76" height="32.4" fill="#FFBEBE"/>
<rect x="485.01" y="767.1" width="2.76" height="32.4" fill="#FF5C5C"/>
<rect x="487.47" y="767.1" width="2.76" height="32.4" fill="#FFFFFF"/>
<rect x="489.93" y="767.1" width="2.76" height="32.4" fill="#DBFDDB"/>
<rect x="492.39" y="767.1" width="2.76" height="32.4" fill="#DBFDDB"/>
<rect x="494.85" y="767.1" width="2.76" height="32.4" fill="#FFEBEB"/>
<rect x="497.3" y="767.1" width="2.76" height="32.4" fill="#FFD4D4"/>
<rect x="499.76" y="767.1" width="2.76" height="32.4" fill="#AAF9AA"/>
<rect x="502.22" y="767.1" width="2.76" height="32.4" fill="#FFA3A3"/>
<rect x="504.68" y="767.1" width="2.76" height="32.4" fill="#FFBEBE"/>
<rect x="507.14" y="767.1" width="2.76" height="32.4" fill="#DBFDDB"/>
<rect x="509.6" y="767.1" width="2.76" height="32.4" fill="#DBFDDB"/>
<rect x="512.05" y="767.1" width="2.76" height="32.4" fill="#FFFFFF"/>
<rect x="514.51" y="767.1" width="2.76" height="32.4" fill="#FFBEBE"/>
<rect x="516.97" y="767.1" width="2.76" height="32.4" fill="#FFA3A3"/>
<rect x="519.43" y="767.1" width="2.76" height="32.4" fill="#FF8383"/>
<rect x="521.89" y="767.1" width="2.76" height="32.4" fill="#FFEBEB"/>
<rect x="524.35" y="767.1" width="2.76" height="32.4" fill="#FF8383"/>
<rect x="526.81" y="767.1" width="2.76" height="32.4" fill="#EFFEEF"/>
<rect x="529.26" y="767.1" width="2.76" height="32.4" fill="#DBFDDB"/>
<rect x="531.72" y="767.1" width="2.76" height="32.4" fill="#DBFDDB"/>
<rect x="534.18" y="767.1" width="2.76" height="32.4" fill="#AAF9AA"/>
<rect x="536.64" y="767.1" width="2.76" height="32.4" fill="#FFFFFF"/>
<rect x="539.1" y="767.1" width="2.76" height="32.4" fill="#DBFDDB"/>
<rect x="541.56" y="767.1" width="2.76" height="32.4" fill="#FF5C5C"/>
<rect x="544.02" y="767.1" width="2.76" height="32.4" fill="#90F890"/>
<rect x="546.47" y="767.1" width="2.76" height="32.4" fill="#FFFFFF"/>
<rect x="548.93" y="767.1" width="2.76" height="32.4" fill="#FFD4D4"/>
<rect x="551.39" y="767.1" width="2.76" height="32.4" fill="#FF8383"/>
<rect x="553.85" y="767.1" width="2.76" height="32.4" fill="#EFFEEF"/>
<rect x="556.31" y="767.1" width="2.76" height="32.4" fill="#FF5C5C"/>
<rect x="558.77" y="767.1" width="2.76" height="32.4" fill="#76F676"/>
<rect x="561.22" y="767.1" width="2.76" height="32.4" fill="#FFD4D4"/>
<rect x="563.68" y="767.1" width="2.76" height="32.4" fill="#FFFFFF"/>
<rect x="566.14" y="767.1" width="2.76" height="32.4" fill="#C1FBC1"/>
<rect x="568.6" y="767.1" width="2.76" height="32.4" fill="#FFD4D4"/>
<rect x="571.06" y="767.1" width="2.76" height="32.4" fill="#FF8383"/>
<rect x="573.52" y="767.1" width="2.76" height="32.4" fill="#C1FBC1"/>
<rect x="575.98" y="767.1" width="2.76" height="32.4" fill="#FFD4D4"/>
<rect x="578.43" y="767.1" width="2.76" height="32.4" fill="#C1FBC1"/>
<rect x="580.89" y="767.1" width="2.76" height="32.4" fill="#FFEBEB"/>
<rect x="583.35" y="767.1" width="2.76" height="32.4" fill="#FFD4D4"/>
<rect x="585.81" y="767.1" width="2.76" height="32.4" fill="#FF8383"/>
<rect x="588.27" y="767.1" width="2.76" height="32.4" fill="#FFFFFF"/>
<rect x="590.73" y="767.1" width="2.76" height="32.4" fill="#FF1A1A"/>
<rect x="593.18" y="767.1" width="2.76" height="32.4" fill="#EFFEEF"/>
<rect x="595.64" y="767.1" width="2.76" height="32.4" fill="#DBFDDB"/>
<rect x="598.1" y="767.1" width="2.76" height="32.4" fill="#FFD4D4"/>
<rect x="600.56" y="767.1" width="2.76" height="32.4" fill="#FFEBEB"/>
<rect x="603.02" y="767.1" width="2.76" height="32.4" fill="#EFFEEF"/>
<rect x="605.48" y="767.1" width="2.76" height="32.4" fill="#FFFFFF"/>
<rect x="607.94" y="767.1" width="2.76" height="32.4" fill="#FFA3A3"/>
<rect x="610.39" y="767.1" width="2.76" height="32.4" fill="#FFA3A3"/>
<rect x="612.85" y="767.1" width="2.76" height="32.4" fill="#FFA3A3"/>
<rect x="615.31" y="767.1" width="2.76" height="32.4" fill="#FFEBEB"/>
<rect x="617.77" y="767.1" width="2.76" height="32.4" fill="#FFFFFF"/>
<rect x="620.23" y="767.1" width="2.76" height="32.4" fill="#76F676"/>
<rect x="622.69" y="767.1" width="2.76" height="32.4" fill="#FFA3A3"/>
<rect x="625.15" y="767.1" width="2.76" height="32.4" fill="#FFA3A3"/>
<rect x="627.6" y="767.1" width="2.76" height="32.4" fill="#FFFFFF"/>
<rect x="630.06" y="767.1" width="2.76" height="32.4" fill="#FFA3A3"/>
<rect x="632.52" y="767.1" width="2.76" height="32.4" fill="#EFFEEF"/>
<rect x="634.98" y="767.1" width="2.76" height="32.4" fill="#FFFFFF"/>
<rect x="637.44" y="767.1" width="2.76" height="32.4" fill="#FFBEBE"/>
<rect x="639.9" y="767.1" width="2.76" height="32.4" fill="#FFFFFF"/>
<rect x="642.35" y="767.1" width="2.76" height="32.4" fill="#FFA3A3"/>
<rect x="644.81" y="767.1" width="2.76" height="32.4" fill="#AAF9AA"/>
<rect x="647.27" y="767.1" width="2.76" height="32.4" fill="#AAF9AA"/>
<rect x="649.73" y="767.1" width="2.76" height="32.4" fill="#FF5C5C"/>
<rect x="652.19" y="767.1" width="2.76" height="32.4" fill="#FFEBEB"/>
<rect x="654.65" y="767.1" width="2.76" height="32.4" fill="#FFBEBE"/>
<rect x="657.11" y="767.1" width="2.76" height="32.4" fill="#76F676"/>
<rect x="659.56" y="767.1" width="2.76" height="32.4" fill="#FFA3A3"/>
<rect x="662.02" y="767.1" width="2.76" height="32.4" fill="#FFFFFF"/>
<rect x="664.48" y="767.1" width="2.76" height="32.4" fill="#FFD4D4"/>
<rect x="666.94" y="767.1" width="2.76" height="32.4" fill="#FFEBEB"/>
<rect x="669.4" y="767.1" width="2.76" height="32.4" fill="#FFBEBE"/>
<rect x="671.86" y="767.1" width="2.76" height="32.4" fill="#FFBEBE"/>
<rect x="674.32" y="767.1" width="2.76" height="32.4" fill="#FFBEBE"/>
<rect x="676.77" y="767.1" width="2.76" height="32.4" fill="#FFD4D4"/>
<rect x="679.23" y="767.1" width="2.76" height="32.4" fill="#FFBEBE"/>
<rect x="681.69" y="767.1" width="2.76" height="32.4" fill="#FFA3A3"/>
<rect x="684.15" y="767.1" width="2.76" height="32.4" fill="#FFA3A3"/>
<rect x="686.61" y="767.1" width="2.76" height="32.4" fill="#FF8383"/>
<rect x="689.07" y="767.1" width="2.76" height="32.4" fill="#FFFFFF"/>
<rect x="691.52" y="767.1" width="2.76" height="32.4" fill="#FFEBEB"/>
<rect x="693.98" y="767.1" width="2.76" height="32.4" fill="#FFEBEB"/>
<rect x="696.44" y="767.1" width="2.76" height="32.4" fill="#FFD4D4"/>
<rect x="47.4" y="695.9" width="326.98" height="5.1" fill="#FA8072"/>
<rect x="374.38" y="695.9" width="324.52" height="5.1" fill="#00CED1"/>
<text x="-0.3" y="693.5" font-size="17.5" text-anchor="start" fill="#000" stroke="#000" stroke-width="0.3" >E</text>
<text x="34.5" y="721.4" font-size="11.7" text-anchor="end" fill="#000" stroke="#000" stroke-width="0.33" >P4HB</text>
<text x="34.5" y="753.6" font-size="11.7" text-anchor="end" fill="#000" stroke="#000" stroke-width="0.33" >BIRC5</text>
<text x="34.5" y="786.6" font-size="11.7" text-anchor="end" fill="#000" stroke="#000" stroke-width="0.33" >NRG1</text>
<path d="M698.9,718.6H702.5V750.9H698.9 M702.5,734.8H708.2V782.7H698.9" stroke="#000" stroke-width="1.2" fill="none"/>
<defs><linearGradient id="cb" x1="0" x2="1" y1="0" y2="0"><stop offset="0" stop-color="#00F800"/><stop offset="0.507" stop-color="#FFFFFF"/><stop offset="1" stop-color="#FF0000"/></linearGradient></defs>
<rect x="142.8" y="809.2" width="176.3" height="12.0" fill="url(#cb)"/>
<text x="163.41" y="833" font-size="11" text-anchor="middle" fill="#000" stroke="#000" stroke-width="0.33" >&#8722;3</text>
<text x="186.34" y="833" font-size="11" text-anchor="middle" fill="#000" stroke="#000" stroke-width="0.33" >&#8722;2</text>
<text x="209.27" y="833" font-size="11" text-anchor="middle" fill="#000" stroke="#000" stroke-width="0.33" >&#8722;1</text>
<text x="232.2" y="833" font-size="11" text-anchor="middle" fill="#000" stroke="#000" stroke-width="0.33" >0</text>
<text x="255.13" y="833" font-size="11" text-anchor="middle" fill="#000" stroke="#000" stroke-width="0.33" >1</text>
<text x="278.06" y="833" font-size="11" text-anchor="middle" fill="#000" stroke="#000" stroke-width="0.33" >2</text>
<text x="300.99" y="833" font-size="11" text-anchor="middle" fill="#000" stroke="#000" stroke-width="0.33" >3</text>
<rect x="401.9" y="809.7" width="10.9" height="11.2" fill="#FA8072"/>
<rect x="494.1" y="809.7" width="10.9" height="11.2" fill="#00CED1"/>
<text x="418.1" y="819.3" font-size="11.7" text-anchor="start" fill="#000" stroke="#000" stroke-width="0.33" >low risk</text>
<text x="510.3" y="819.3" font-size="11.7" text-anchor="start" fill="#000" stroke="#000" stroke-width="0.33" >high risk</text>
<line x1="374.1" y1="281.2" x2="374.1" y2="809.4" stroke="#000" stroke-width="1.2" stroke-dasharray="3.9 5.02"/>
</svg>
</body></html>
